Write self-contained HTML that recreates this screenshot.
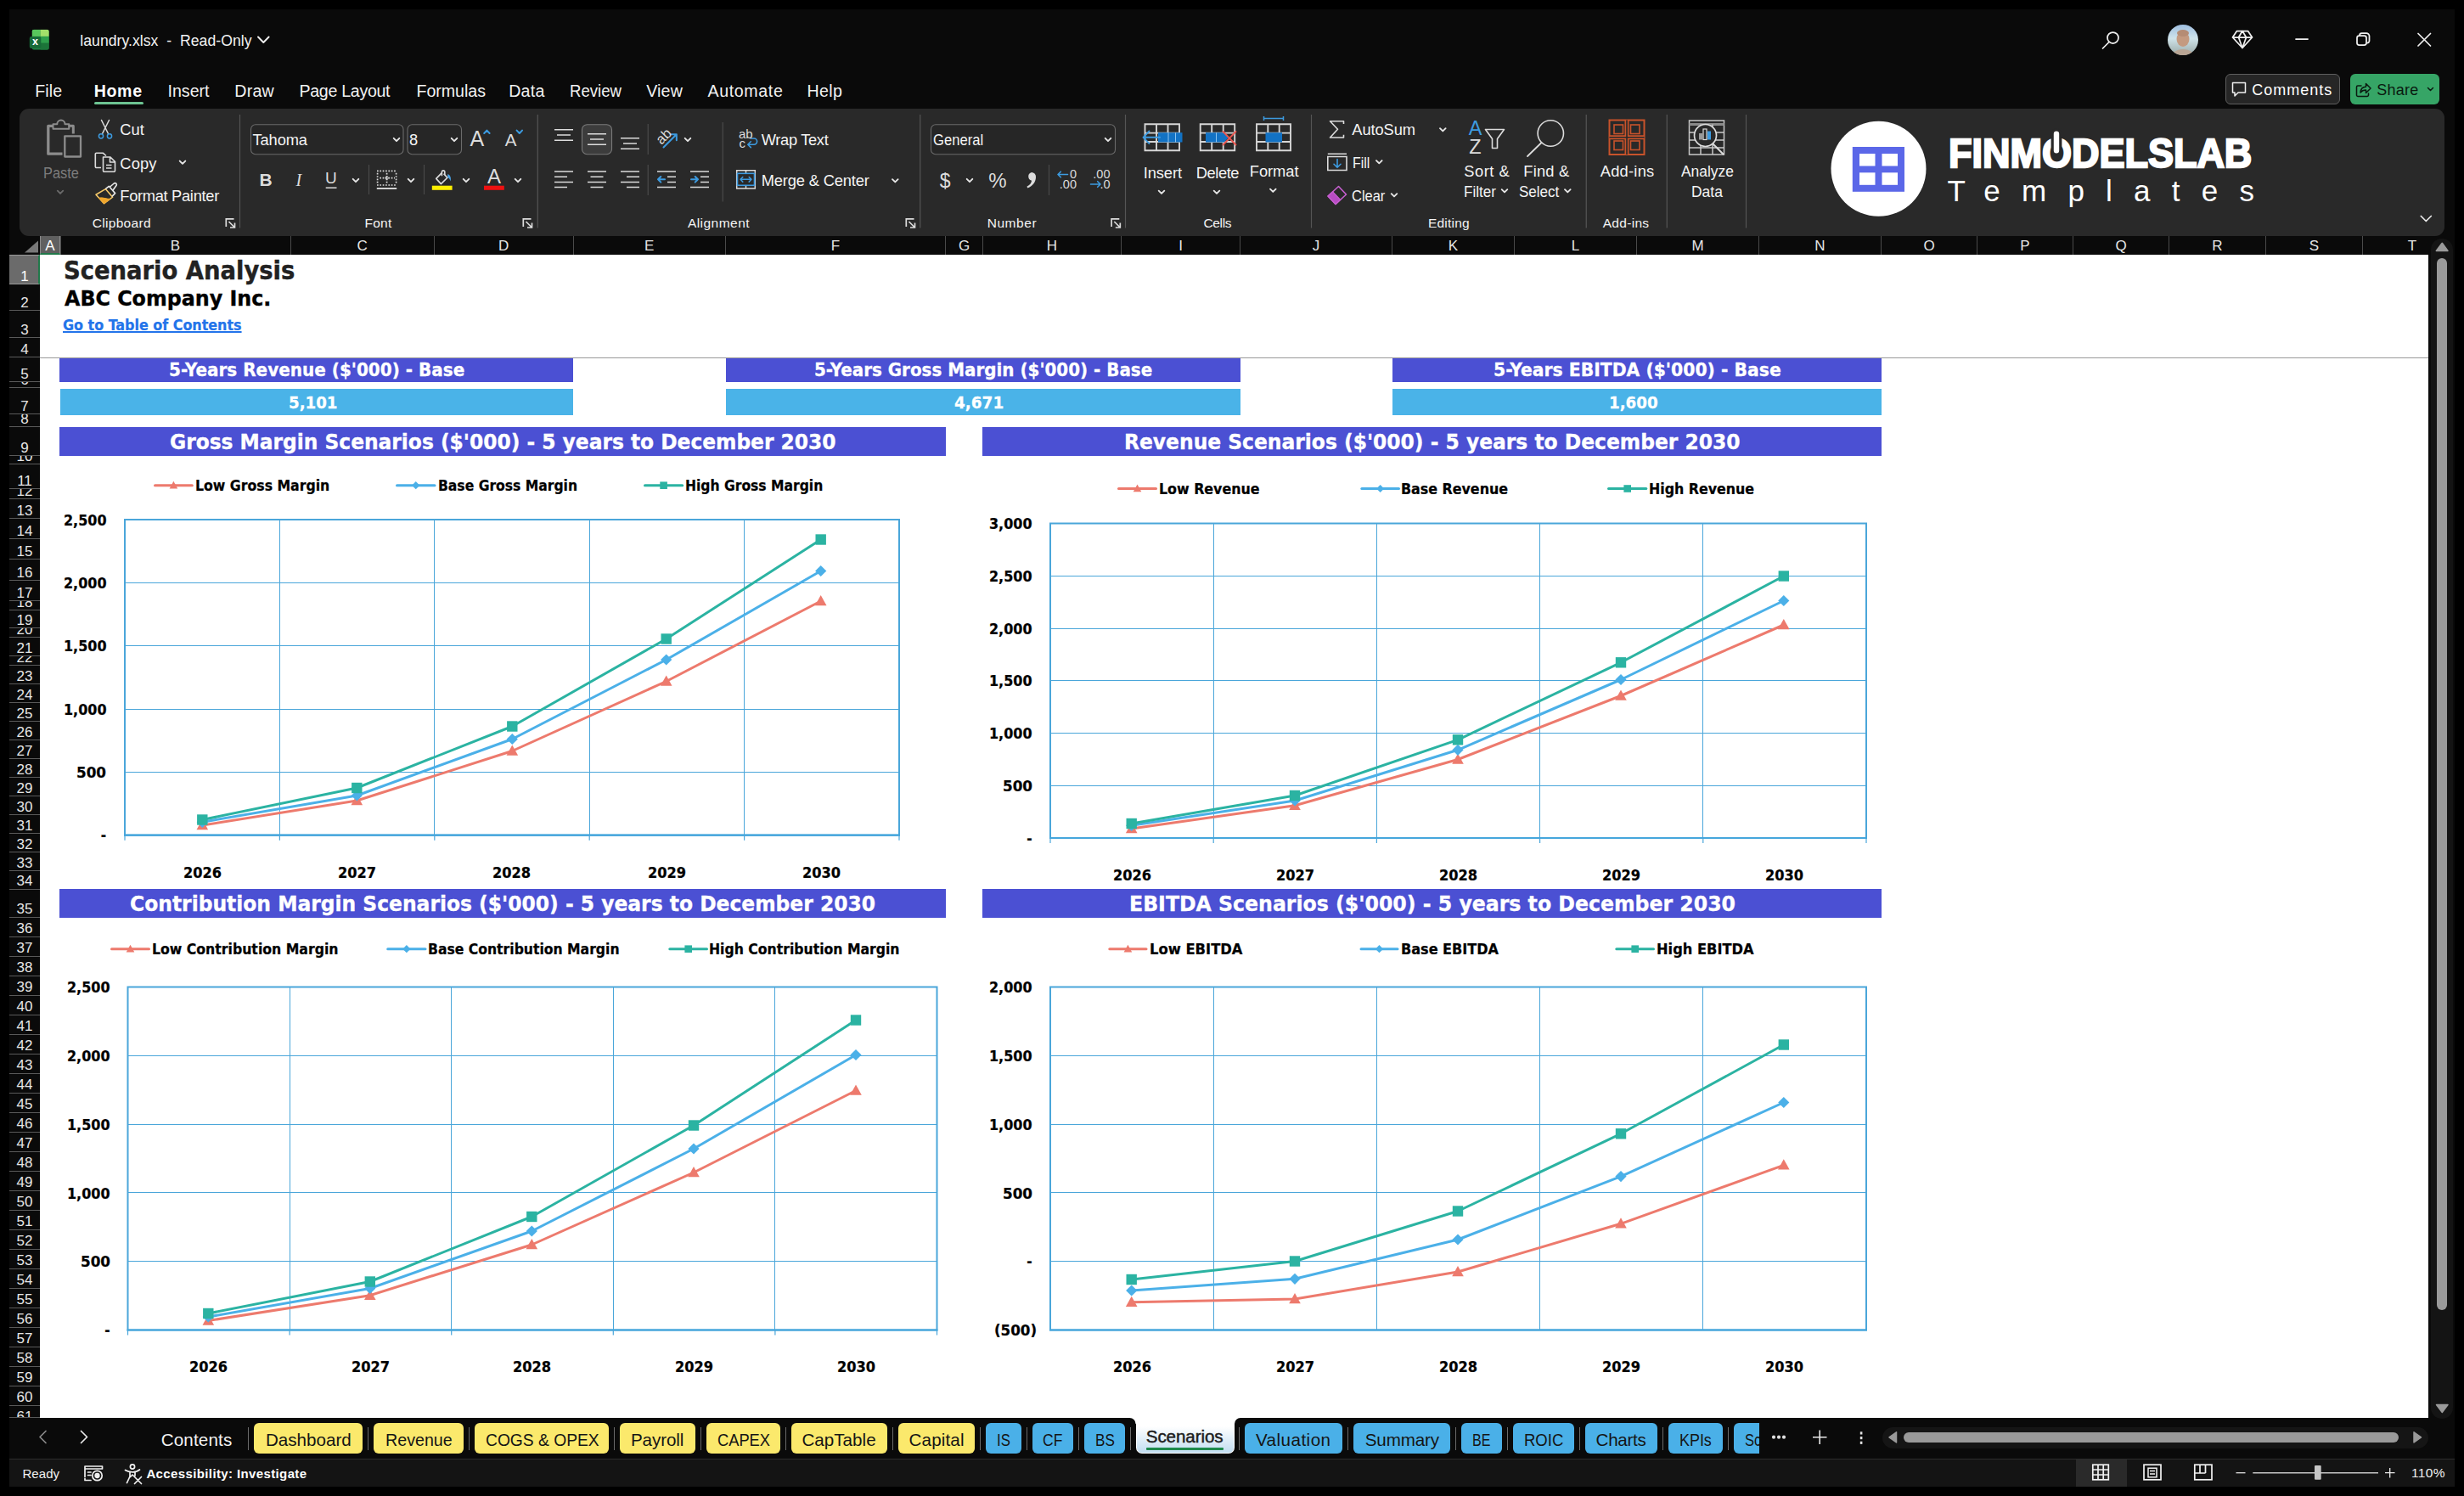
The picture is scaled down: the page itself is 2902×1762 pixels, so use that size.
<!DOCTYPE html><html lang="en"><head><meta charset="utf-8"><title>laundry.xlsx - Excel</title><style>

html,body{margin:0;padding:0;background:#000;}
body{width:2902px;height:1762px;position:relative;overflow:hidden;font-family:"Liberation Sans",sans-serif;}
#app div,#app span.t,#app svg{position:absolute;}
#app span.t{white-space:pre;}
#app span.rt{position:absolute;white-space:pre;}
#app svg{left:0;top:0;overflow:visible;}

</style></head><body><div id="app" style="position:absolute;left:0;top:0;width:2902px;height:1762px;overflow:hidden">
<div style="left:11px;top:11px;width:2880px;height:1740px;background:#0a0a0a;"></div>
<svg width="2902" height="1762" viewBox="0 0 2902 1762">
<defs><clipPath id="xlc"><rect x="37.6" y="34.7" width="20.2" height="24" rx="2.6"/></clipPath></defs>
<g clip-path="url(#xlc)">
<rect x="37.6" y="34.7" width="20.2" height="24" fill="#1f7f42"/>
<rect x="37.6" y="34.7" width="10" height="8.2" fill="#58c65c"/>
<rect x="47.6" y="34.7" width="10.2" height="8.2" fill="#a3e06a"/>
<rect x="47.6" y="42.9" width="10.2" height="7.8" fill="#2fa04c"/>
<rect x="47.6" y="50.7" width="10.2" height="8" fill="#1c7439"/>
</g>
<rect x="34.8" y="42.9" width="13.5" height="14.1" rx="2" fill="#176b38"/>
</svg>
<span class="t" style="font:bold 12.5px/15.0px 'Liberation Sans', sans-serif;color:#fff;top:41.59px;left:-558.5px;width:1200px;text-align:center;">x</span>
<span class="t" style="font:normal 17.6px/21.12px 'Liberation Sans', sans-serif;color:#f2f2f2;top:38.1px;letter-spacing:0.043px;left:94.3px;">laundry.xlsx  -  Read-Only</span>
<svg width="2902" height="1762"><path d="M304 43.5 L310.3 50 L316.6 43.5" fill="none" stroke="#eee" stroke-width="1.9" stroke-linecap="round" stroke-linejoin="round"/></svg>
<svg width="2902" height="1762"><g fill="none" stroke="#f0f0f0" stroke-width="1.75" stroke-linecap="round" stroke-linejoin="round">
<circle cx="2488.5" cy="44.5" r="6.5"/><path d="M2484 49.5 L2476.5 57"/>
<path d="M2629.5 44 L2634.5 36.5 L2647.5 36.5 L2652.5 44 L2641 56.5 Z M2629.5 44 L2652.5 44 M2636.5 44 L2641 36.5 L2645.5 44 L2641 56.5 L2636.5 44"/>
<path d="M2704 46 L2718 46"/>
<rect x="2776" y="42" width="11" height="11" rx="2.5"/><path d="M2779 42 V41.5 a2.5 2.5 0 0 1 2.5 -2.5 H2787 a3.5 3.5 0 0 1 3.5 3.5 V48 a2.5 2.5 0 0 1 -2.5 2.5"/>
<path d="M2848 39.5 L2862.5 54 M2862.5 39.5 L2848 54"/>
</g>
<defs><linearGradient id="sky" x1="0" y1="0" x2="0" y2="1"><stop offset="0" stop-color="#9fbfe0"/><stop offset="0.45" stop-color="#cfe3ea"/><stop offset="1" stop-color="#9aa9a6"/></linearGradient>
<clipPath id="avc"><circle cx="2571" cy="47" r="18"/></clipPath></defs>
<g clip-path="url(#avc)"><rect x="2553" y="29" width="36" height="36" fill="url(#sky)"/>
<ellipse cx="2571" cy="46" rx="7.5" ry="9" fill="#c49a80"/><ellipse cx="2571" cy="68" rx="14" ry="10" fill="#b9a594"/><ellipse cx="2571" cy="39" rx="7" ry="4" fill="#b58c74"/></g>
</svg>
<span class="t" style="font:normal 19.6px/23.52px 'Liberation Sans', sans-serif;color:#f2f2f2;top:95.83px;letter-spacing:0.080px;left:41.22px;">File</span>
<span class="t" style="font:normal 19.6px/23.52px 'Liberation Sans', sans-serif;color:#f2f2f2;top:95.83px;letter-spacing:0.010px;left:197.47px;">Insert</span>
<span class="t" style="font:normal 19.6px/23.52px 'Liberation Sans', sans-serif;color:#f2f2f2;top:95.83px;letter-spacing:0.278px;left:276.22px;">Draw</span>
<span class="t" style="font:normal 19.6px/23.52px 'Liberation Sans', sans-serif;color:#f2f2f2;top:95.83px;letter-spacing:-0.298px;left:352.47px;">Page Layout</span>
<span class="t" style="font:normal 19.6px/23.52px 'Liberation Sans', sans-serif;color:#f2f2f2;top:95.83px;letter-spacing:-0.015px;left:490.47px;">Formulas</span>
<span class="t" style="font:normal 19.6px/23.52px 'Liberation Sans', sans-serif;color:#f2f2f2;top:95.83px;letter-spacing:0.226px;left:599.22px;">Data</span>
<span class="t" style="font:normal 19.6px/23.52px 'Liberation Sans', sans-serif;color:#f2f2f2;top:95.83px;left:670.66px;transform-origin:0 50%;transform:scaleX(0.9483);">Review</span>
<span class="t" style="font:normal 19.6px/23.52px 'Liberation Sans', sans-serif;color:#f2f2f2;top:95.83px;letter-spacing:0.148px;left:761.22px;">View</span>
<span class="t" style="font:normal 19.6px/23.52px 'Liberation Sans', sans-serif;color:#f2f2f2;top:95.83px;letter-spacing:0.635px;left:833.47px;">Automate</span>
<span class="t" style="font:normal 19.6px/23.52px 'Liberation Sans', sans-serif;color:#f2f2f2;top:95.83px;letter-spacing:0.418px;left:950.47px;">Help</span>
<span class="t" style="font:bold 19.6px/23.52px 'Liberation Sans', sans-serif;color:#fff;top:95.83px;letter-spacing:0.622px;left:110.72px;">Home</span>
<div style="left:111px;top:120.3px;width:58px;height:2.9px;background:#6cc391;border-radius:1.5px;"></div>
<div style="left:2621px;top:87px;width:134.5px;height:36px;background:#262626;border:1px solid #5e5e5e;border-radius:6px;box-sizing:border-box;"></div>
<div style="left:2768px;top:87px;width:105px;height:36px;background:#36a566;border-radius:6px;"></div>
<span class="t" style="font:normal 18px/21.6px 'Liberation Sans', sans-serif;color:#fff;top:95.77px;letter-spacing:0.987px;left:2652.28px;">Comments</span>
<span class="t" style="font:normal 18px/21.6px 'Liberation Sans', sans-serif;color:#0a1a10;top:95.77px;letter-spacing:0.223px;left:2799.28px;">Share</span>
<svg width="2902" height="1762"><g fill="none" stroke-width="1.5" stroke-linejoin="round" stroke-linecap="round">
<path d="M2629.5 97.5 H2644.5 V109 H2636 L2632 113 V109 H2629.5 Z" stroke="#f0f0f0"/>
<path d="M2781 101 H2777 a1.5 1.5 0 0 0 -1.5 1.5 V112 a1.5 1.5 0 0 0 1.5 1.5 H2788 a1.5 1.5 0 0 0 1.5 -1.5 V110" stroke="#0a1a10"/>
<path d="M2780 109 C2780.5 104 2783.5 102.3 2786.5 102.3 V98.5 L2792 104 L2786.5 109.5 V106 C2784 106 2782 106.5 2780 109 Z" stroke="#0a1a10"/>
<path d="M2859.5 103.5 L2862.5 106.5 L2865.5 103.5" stroke="#0a1a10"/>
</g></svg>
<div style="left:23px;top:128px;width:2856px;height:149.5px;background:#292929;border-radius:11px;"></div>
<div style="left:11px;top:278px;width:2849px;height:22px;background:#0a0a0a;"></div>
<div style="left:47px;top:278px;width:24px;height:22px;background:#606060;border-bottom:2.2px solid #21794a;border-left:1px solid #8a8a8a;border-right:1px solid #8a8a8a;box-sizing:border-box;"></div>
<div style="left:70.5px;top:278px;width:1px;height:22px;background:#4a4a4a;"></div>
<span class="t" style="font:normal 17px/20.4px 'Liberation Sans', sans-serif;color:#fff;top:279.75px;left:-541.0px;width:1200px;text-align:center;">A</span>
<div style="left:341.5px;top:278px;width:1px;height:22px;background:#4a4a4a;"></div>
<span class="t" style="font:normal 17px/20.4px 'Liberation Sans', sans-serif;color:#e6e6e6;top:279.75px;left:-393.5px;width:1200px;text-align:center;">B</span>
<div style="left:511.0px;top:278px;width:1px;height:22px;background:#4a4a4a;"></div>
<span class="t" style="font:normal 17px/20.4px 'Liberation Sans', sans-serif;color:#e6e6e6;top:279.75px;left:-173.25px;width:1200px;text-align:center;">C</span>
<div style="left:674.5px;top:278px;width:1px;height:22px;background:#4a4a4a;"></div>
<span class="t" style="font:normal 17px/20.4px 'Liberation Sans', sans-serif;color:#e6e6e6;top:279.75px;left:-6.75px;width:1200px;text-align:center;">D</span>
<div style="left:854.0px;top:278px;width:1px;height:22px;background:#4a4a4a;"></div>
<span class="t" style="font:normal 17px/20.4px 'Liberation Sans', sans-serif;color:#e6e6e6;top:279.75px;left:164.75px;width:1200px;text-align:center;">E</span>
<div style="left:1113.0px;top:278px;width:1px;height:22px;background:#4a4a4a;"></div>
<span class="t" style="font:normal 17px/20.4px 'Liberation Sans', sans-serif;color:#e6e6e6;top:279.75px;left:384.0px;width:1200px;text-align:center;">F</span>
<div style="left:1157.0px;top:278px;width:1px;height:22px;background:#4a4a4a;"></div>
<span class="t" style="font:normal 17px/20.4px 'Liberation Sans', sans-serif;color:#e6e6e6;top:279.75px;left:535.5px;width:1200px;text-align:center;">G</span>
<div style="left:1320.0px;top:278px;width:1px;height:22px;background:#4a4a4a;"></div>
<span class="t" style="font:normal 17px/20.4px 'Liberation Sans', sans-serif;color:#e6e6e6;top:279.75px;left:639.0px;width:1200px;text-align:center;">H</span>
<div style="left:1460.0px;top:278px;width:1px;height:22px;background:#4a4a4a;"></div>
<span class="t" style="font:normal 17px/20.4px 'Liberation Sans', sans-serif;color:#e6e6e6;top:279.75px;left:790.5px;width:1200px;text-align:center;">I</span>
<div style="left:1639.0px;top:278px;width:1px;height:22px;background:#4a4a4a;"></div>
<span class="t" style="font:normal 17px/20.4px 'Liberation Sans', sans-serif;color:#e6e6e6;top:279.75px;left:950.0px;width:1200px;text-align:center;">J</span>
<div style="left:1783.0px;top:278px;width:1px;height:22px;background:#4a4a4a;"></div>
<span class="t" style="font:normal 17px/20.4px 'Liberation Sans', sans-serif;color:#e6e6e6;top:279.75px;left:1111.5px;width:1200px;text-align:center;">K</span>
<div style="left:1927.0px;top:278px;width:1px;height:22px;background:#4a4a4a;"></div>
<span class="t" style="font:normal 17px/20.4px 'Liberation Sans', sans-serif;color:#e6e6e6;top:279.75px;left:1255.5px;width:1200px;text-align:center;">L</span>
<div style="left:2071.0px;top:278px;width:1px;height:22px;background:#4a4a4a;"></div>
<span class="t" style="font:normal 17px/20.4px 'Liberation Sans', sans-serif;color:#e6e6e6;top:279.75px;left:1399.5px;width:1200px;text-align:center;">M</span>
<div style="left:2215.0px;top:278px;width:1px;height:22px;background:#4a4a4a;"></div>
<span class="t" style="font:normal 17px/20.4px 'Liberation Sans', sans-serif;color:#e6e6e6;top:279.75px;left:1543.5px;width:1200px;text-align:center;">N</span>
<div style="left:2328.0px;top:278px;width:1px;height:22px;background:#4a4a4a;"></div>
<span class="t" style="font:normal 17px/20.4px 'Liberation Sans', sans-serif;color:#e6e6e6;top:279.75px;left:1672.0px;width:1200px;text-align:center;">O</span>
<div style="left:2441.0px;top:278px;width:1px;height:22px;background:#4a4a4a;"></div>
<span class="t" style="font:normal 17px/20.4px 'Liberation Sans', sans-serif;color:#e6e6e6;top:279.75px;left:1785.0px;width:1200px;text-align:center;">P</span>
<div style="left:2554.0px;top:278px;width:1px;height:22px;background:#4a4a4a;"></div>
<span class="t" style="font:normal 17px/20.4px 'Liberation Sans', sans-serif;color:#e6e6e6;top:279.75px;left:1898.0px;width:1200px;text-align:center;">Q</span>
<div style="left:2668.0px;top:278px;width:1px;height:22px;background:#4a4a4a;"></div>
<span class="t" style="font:normal 17px/20.4px 'Liberation Sans', sans-serif;color:#e6e6e6;top:279.75px;left:2011.5px;width:1200px;text-align:center;">R</span>
<div style="left:2782.0px;top:278px;width:1px;height:22px;background:#4a4a4a;"></div>
<span class="t" style="font:normal 17px/20.4px 'Liberation Sans', sans-serif;color:#e6e6e6;top:279.75px;left:2125.5px;width:1200px;text-align:center;">S</span>
<span class="t" style="font:normal 17px/20.4px 'Liberation Sans', sans-serif;color:#e6e6e6;top:279.75px;left:2241.0px;width:1200px;text-align:center;">T</span>
<svg width="2902" height="1762"><path d="M45 283.5 V297.5 H29 Z" fill="#787878"/></svg>
<div style="left:11px;top:300px;width:36px;height:1370px;background:#0a0a0a;"></div>
<div style="left:11px;top:300px;width:36px;height:1370px;overflow:hidden;"><div style="left:0;top:0px;width:36px;height:35px;background:#6b6b6b;overflow:hidden;box-sizing:border-box;border-bottom:1px solid #5a5a5a;border-right:2.2px solid #21794a;border-top:1px solid #9a9a9a;border-bottom:1px solid #9a9a9a;"><span class="rt" style="left:0;width:36px;text-align:center;bottom:-1.9px;font:17px/20px 'Liberation Sans', sans-serif;color:#fff">1</span></div><div style="left:0;top:35px;width:36px;height:31px;background:#0a0a0a;overflow:hidden;box-sizing:border-box;border-bottom:1px solid #5a5a5a;"><span class="rt" style="left:0;width:36px;text-align:center;bottom:-1.9px;font:17px/20px 'Liberation Sans', sans-serif;color:#e6e6e6">2</span></div><div style="left:0;top:66px;width:36px;height:32px;background:#0a0a0a;overflow:hidden;box-sizing:border-box;border-bottom:1px solid #5a5a5a;"><span class="rt" style="left:0;width:36px;text-align:center;bottom:-1.9px;font:17px/20px 'Liberation Sans', sans-serif;color:#e6e6e6">3</span></div><div style="left:0;top:98px;width:36px;height:23px;background:#0a0a0a;overflow:hidden;box-sizing:border-box;border-bottom:1px solid #5a5a5a;"><span class="rt" style="left:0;width:36px;text-align:center;bottom:-1.9px;font:17px/20px 'Liberation Sans', sans-serif;color:#e6e6e6">4</span></div><div style="left:0;top:121px;width:36px;height:29px;background:#0a0a0a;overflow:hidden;box-sizing:border-box;border-bottom:1px solid #5a5a5a;"><span class="rt" style="left:0;width:36px;text-align:center;bottom:-1.9px;font:17px/20px 'Liberation Sans', sans-serif;color:#e6e6e6">5</span></div><div style="left:0;top:150px;width:36px;height:7px;background:#0a0a0a;overflow:hidden;box-sizing:border-box;border-bottom:1px solid #5a5a5a;"><span class="rt" style="left:0;width:36px;text-align:center;bottom:-1.9px;font:17px/20px 'Liberation Sans', sans-serif;color:#e6e6e6">6</span></div><div style="left:0;top:157px;width:36px;height:31px;background:#0a0a0a;overflow:hidden;box-sizing:border-box;border-bottom:1px solid #5a5a5a;"><span class="rt" style="left:0;width:36px;text-align:center;bottom:-1.9px;font:17px/20px 'Liberation Sans', sans-serif;color:#e6e6e6">7</span></div><div style="left:0;top:188px;width:36px;height:15px;background:#0a0a0a;overflow:hidden;box-sizing:border-box;border-bottom:1px solid #5a5a5a;"><span class="rt" style="left:0;width:36px;text-align:center;bottom:-1.9px;font:17px/20px 'Liberation Sans', sans-serif;color:#e6e6e6">8</span></div><div style="left:0;top:203px;width:36px;height:34px;background:#0a0a0a;overflow:hidden;box-sizing:border-box;border-bottom:1px solid #5a5a5a;"><span class="rt" style="left:0;width:36px;text-align:center;bottom:-1.9px;font:17px/20px 'Liberation Sans', sans-serif;color:#e6e6e6">9</span></div><div style="left:0;top:237px;width:36px;height:10px;background:#0a0a0a;overflow:hidden;box-sizing:border-box;border-bottom:1px solid #5a5a5a;"><span class="rt" style="left:0;width:36px;text-align:center;bottom:-1.9px;font:17px/20px 'Liberation Sans', sans-serif;color:#e6e6e6">10</span></div><div style="left:0;top:247px;width:36px;height:29px;background:#0a0a0a;overflow:hidden;box-sizing:border-box;border-bottom:1px solid #5a5a5a;"><span class="rt" style="left:0;width:36px;text-align:center;bottom:-1.9px;font:17px/20px 'Liberation Sans', sans-serif;color:#e6e6e6">11</span></div><div style="left:0;top:276px;width:36px;height:12px;background:#0a0a0a;overflow:hidden;box-sizing:border-box;border-bottom:1px solid #5a5a5a;"><span class="rt" style="left:0;width:36px;text-align:center;bottom:-1.9px;font:17px/20px 'Liberation Sans', sans-serif;color:#e6e6e6">12</span></div><div style="left:0;top:288px;width:36px;height:23px;background:#0a0a0a;overflow:hidden;box-sizing:border-box;border-bottom:1px solid #5a5a5a;"><span class="rt" style="left:0;width:36px;text-align:center;bottom:-1.9px;font:17px/20px 'Liberation Sans', sans-serif;color:#e6e6e6">13</span></div><div style="left:0;top:311px;width:36px;height:24px;background:#0a0a0a;overflow:hidden;box-sizing:border-box;border-bottom:1px solid #5a5a5a;"><span class="rt" style="left:0;width:36px;text-align:center;bottom:-1.9px;font:17px/20px 'Liberation Sans', sans-serif;color:#e6e6e6">14</span></div><div style="left:0;top:335px;width:36px;height:24px;background:#0a0a0a;overflow:hidden;box-sizing:border-box;border-bottom:1px solid #5a5a5a;"><span class="rt" style="left:0;width:36px;text-align:center;bottom:-1.9px;font:17px/20px 'Liberation Sans', sans-serif;color:#e6e6e6">15</span></div><div style="left:0;top:359px;width:36px;height:25px;background:#0a0a0a;overflow:hidden;box-sizing:border-box;border-bottom:1px solid #5a5a5a;"><span class="rt" style="left:0;width:36px;text-align:center;bottom:-1.9px;font:17px/20px 'Liberation Sans', sans-serif;color:#e6e6e6">16</span></div><div style="left:0;top:384px;width:36px;height:24px;background:#0a0a0a;overflow:hidden;box-sizing:border-box;border-bottom:1px solid #5a5a5a;"><span class="rt" style="left:0;width:36px;text-align:center;bottom:-1.9px;font:17px/20px 'Liberation Sans', sans-serif;color:#e6e6e6">17</span></div><div style="left:0;top:408px;width:36px;height:11px;background:#0a0a0a;overflow:hidden;box-sizing:border-box;border-bottom:1px solid #5a5a5a;"><span class="rt" style="left:0;width:36px;text-align:center;bottom:-1.9px;font:17px/20px 'Liberation Sans', sans-serif;color:#e6e6e6">18</span></div><div style="left:0;top:419px;width:36px;height:21px;background:#0a0a0a;overflow:hidden;box-sizing:border-box;border-bottom:1px solid #5a5a5a;"><span class="rt" style="left:0;width:36px;text-align:center;bottom:-1.9px;font:17px/20px 'Liberation Sans', sans-serif;color:#e6e6e6">19</span></div><div style="left:0;top:440px;width:36px;height:11px;background:#0a0a0a;overflow:hidden;box-sizing:border-box;border-bottom:1px solid #5a5a5a;"><span class="rt" style="left:0;width:36px;text-align:center;bottom:-1.9px;font:17px/20px 'Liberation Sans', sans-serif;color:#e6e6e6">20</span></div><div style="left:0;top:451px;width:36px;height:22px;background:#0a0a0a;overflow:hidden;box-sizing:border-box;border-bottom:1px solid #5a5a5a;"><span class="rt" style="left:0;width:36px;text-align:center;bottom:-1.9px;font:17px/20px 'Liberation Sans', sans-serif;color:#e6e6e6">21</span></div><div style="left:0;top:473px;width:36px;height:11px;background:#0a0a0a;overflow:hidden;box-sizing:border-box;border-bottom:1px solid #5a5a5a;"><span class="rt" style="left:0;width:36px;text-align:center;bottom:-1.9px;font:17px/20px 'Liberation Sans', sans-serif;color:#e6e6e6">22</span></div><div style="left:0;top:484px;width:36px;height:22px;background:#0a0a0a;overflow:hidden;box-sizing:border-box;border-bottom:1px solid #5a5a5a;"><span class="rt" style="left:0;width:36px;text-align:center;bottom:-1.9px;font:17px/20px 'Liberation Sans', sans-serif;color:#e6e6e6">23</span></div><div style="left:0;top:506px;width:36px;height:22px;background:#0a0a0a;overflow:hidden;box-sizing:border-box;border-bottom:1px solid #5a5a5a;"><span class="rt" style="left:0;width:36px;text-align:center;bottom:-1.9px;font:17px/20px 'Liberation Sans', sans-serif;color:#e6e6e6">24</span></div><div style="left:0;top:528px;width:36px;height:22px;background:#0a0a0a;overflow:hidden;box-sizing:border-box;border-bottom:1px solid #5a5a5a;"><span class="rt" style="left:0;width:36px;text-align:center;bottom:-1.9px;font:17px/20px 'Liberation Sans', sans-serif;color:#e6e6e6">25</span></div><div style="left:0;top:550px;width:36px;height:22px;background:#0a0a0a;overflow:hidden;box-sizing:border-box;border-bottom:1px solid #5a5a5a;"><span class="rt" style="left:0;width:36px;text-align:center;bottom:-1.9px;font:17px/20px 'Liberation Sans', sans-serif;color:#e6e6e6">26</span></div><div style="left:0;top:572px;width:36px;height:22px;background:#0a0a0a;overflow:hidden;box-sizing:border-box;border-bottom:1px solid #5a5a5a;"><span class="rt" style="left:0;width:36px;text-align:center;bottom:-1.9px;font:17px/20px 'Liberation Sans', sans-serif;color:#e6e6e6">27</span></div><div style="left:0;top:594px;width:36px;height:22px;background:#0a0a0a;overflow:hidden;box-sizing:border-box;border-bottom:1px solid #5a5a5a;"><span class="rt" style="left:0;width:36px;text-align:center;bottom:-1.9px;font:17px/20px 'Liberation Sans', sans-serif;color:#e6e6e6">28</span></div><div style="left:0;top:616px;width:36px;height:22px;background:#0a0a0a;overflow:hidden;box-sizing:border-box;border-bottom:1px solid #5a5a5a;"><span class="rt" style="left:0;width:36px;text-align:center;bottom:-1.9px;font:17px/20px 'Liberation Sans', sans-serif;color:#e6e6e6">29</span></div><div style="left:0;top:638px;width:36px;height:22px;background:#0a0a0a;overflow:hidden;box-sizing:border-box;border-bottom:1px solid #5a5a5a;"><span class="rt" style="left:0;width:36px;text-align:center;bottom:-1.9px;font:17px/20px 'Liberation Sans', sans-serif;color:#e6e6e6">30</span></div><div style="left:0;top:660px;width:36px;height:22px;background:#0a0a0a;overflow:hidden;box-sizing:border-box;border-bottom:1px solid #5a5a5a;"><span class="rt" style="left:0;width:36px;text-align:center;bottom:-1.9px;font:17px/20px 'Liberation Sans', sans-serif;color:#e6e6e6">31</span></div><div style="left:0;top:682px;width:36px;height:22px;background:#0a0a0a;overflow:hidden;box-sizing:border-box;border-bottom:1px solid #5a5a5a;"><span class="rt" style="left:0;width:36px;text-align:center;bottom:-1.9px;font:17px/20px 'Liberation Sans', sans-serif;color:#e6e6e6">32</span></div><div style="left:0;top:704px;width:36px;height:22px;background:#0a0a0a;overflow:hidden;box-sizing:border-box;border-bottom:1px solid #5a5a5a;"><span class="rt" style="left:0;width:36px;text-align:center;bottom:-1.9px;font:17px/20px 'Liberation Sans', sans-serif;color:#e6e6e6">33</span></div><div style="left:0;top:726px;width:36px;height:21.5px;background:#0a0a0a;overflow:hidden;box-sizing:border-box;border-bottom:1px solid #5a5a5a;"><span class="rt" style="left:0;width:36px;text-align:center;bottom:-1.9px;font:17px/20px 'Liberation Sans', sans-serif;color:#e6e6e6">34</span></div><div style="left:0;top:747.5px;width:36px;height:33.0px;background:#0a0a0a;overflow:hidden;box-sizing:border-box;border-bottom:1px solid #5a5a5a;"><span class="rt" style="left:0;width:36px;text-align:center;bottom:-1.9px;font:17px/20px 'Liberation Sans', sans-serif;color:#e6e6e6">35</span></div><div style="left:0;top:780.5px;width:36px;height:23.0px;background:#0a0a0a;overflow:hidden;box-sizing:border-box;border-bottom:1px solid #5a5a5a;"><span class="rt" style="left:0;width:36px;text-align:center;bottom:-1.9px;font:17px/20px 'Liberation Sans', sans-serif;color:#e6e6e6">36</span></div><div style="left:0;top:803.5px;width:36px;height:23.0px;background:#0a0a0a;overflow:hidden;box-sizing:border-box;border-bottom:1px solid #5a5a5a;"><span class="rt" style="left:0;width:36px;text-align:center;bottom:-1.9px;font:17px/20px 'Liberation Sans', sans-serif;color:#e6e6e6">37</span></div><div style="left:0;top:826.5px;width:36px;height:23.0px;background:#0a0a0a;overflow:hidden;box-sizing:border-box;border-bottom:1px solid #5a5a5a;"><span class="rt" style="left:0;width:36px;text-align:center;bottom:-1.9px;font:17px/20px 'Liberation Sans', sans-serif;color:#e6e6e6">38</span></div><div style="left:0;top:849.5px;width:36px;height:23.0px;background:#0a0a0a;overflow:hidden;box-sizing:border-box;border-bottom:1px solid #5a5a5a;"><span class="rt" style="left:0;width:36px;text-align:center;bottom:-1.9px;font:17px/20px 'Liberation Sans', sans-serif;color:#e6e6e6">39</span></div><div style="left:0;top:872.5px;width:36px;height:23.0px;background:#0a0a0a;overflow:hidden;box-sizing:border-box;border-bottom:1px solid #5a5a5a;"><span class="rt" style="left:0;width:36px;text-align:center;bottom:-1.9px;font:17px/20px 'Liberation Sans', sans-serif;color:#e6e6e6">40</span></div><div style="left:0;top:895.5px;width:36px;height:23.0px;background:#0a0a0a;overflow:hidden;box-sizing:border-box;border-bottom:1px solid #5a5a5a;"><span class="rt" style="left:0;width:36px;text-align:center;bottom:-1.9px;font:17px/20px 'Liberation Sans', sans-serif;color:#e6e6e6">41</span></div><div style="left:0;top:918.5px;width:36px;height:23.0px;background:#0a0a0a;overflow:hidden;box-sizing:border-box;border-bottom:1px solid #5a5a5a;"><span class="rt" style="left:0;width:36px;text-align:center;bottom:-1.9px;font:17px/20px 'Liberation Sans', sans-serif;color:#e6e6e6">42</span></div><div style="left:0;top:941.5px;width:36px;height:23.0px;background:#0a0a0a;overflow:hidden;box-sizing:border-box;border-bottom:1px solid #5a5a5a;"><span class="rt" style="left:0;width:36px;text-align:center;bottom:-1.9px;font:17px/20px 'Liberation Sans', sans-serif;color:#e6e6e6">43</span></div><div style="left:0;top:964.5px;width:36px;height:23.0px;background:#0a0a0a;overflow:hidden;box-sizing:border-box;border-bottom:1px solid #5a5a5a;"><span class="rt" style="left:0;width:36px;text-align:center;bottom:-1.9px;font:17px/20px 'Liberation Sans', sans-serif;color:#e6e6e6">44</span></div><div style="left:0;top:987.5px;width:36px;height:23.0px;background:#0a0a0a;overflow:hidden;box-sizing:border-box;border-bottom:1px solid #5a5a5a;"><span class="rt" style="left:0;width:36px;text-align:center;bottom:-1.9px;font:17px/20px 'Liberation Sans', sans-serif;color:#e6e6e6">45</span></div><div style="left:0;top:1010.5px;width:36px;height:23.0px;background:#0a0a0a;overflow:hidden;box-sizing:border-box;border-bottom:1px solid #5a5a5a;"><span class="rt" style="left:0;width:36px;text-align:center;bottom:-1.9px;font:17px/20px 'Liberation Sans', sans-serif;color:#e6e6e6">46</span></div><div style="left:0;top:1033.5px;width:36px;height:23.0px;background:#0a0a0a;overflow:hidden;box-sizing:border-box;border-bottom:1px solid #5a5a5a;"><span class="rt" style="left:0;width:36px;text-align:center;bottom:-1.9px;font:17px/20px 'Liberation Sans', sans-serif;color:#e6e6e6">47</span></div><div style="left:0;top:1056.5px;width:36px;height:23.0px;background:#0a0a0a;overflow:hidden;box-sizing:border-box;border-bottom:1px solid #5a5a5a;"><span class="rt" style="left:0;width:36px;text-align:center;bottom:-1.9px;font:17px/20px 'Liberation Sans', sans-serif;color:#e6e6e6">48</span></div><div style="left:0;top:1079.5px;width:36px;height:23.0px;background:#0a0a0a;overflow:hidden;box-sizing:border-box;border-bottom:1px solid #5a5a5a;"><span class="rt" style="left:0;width:36px;text-align:center;bottom:-1.9px;font:17px/20px 'Liberation Sans', sans-serif;color:#e6e6e6">49</span></div><div style="left:0;top:1102.5px;width:36px;height:23.0px;background:#0a0a0a;overflow:hidden;box-sizing:border-box;border-bottom:1px solid #5a5a5a;"><span class="rt" style="left:0;width:36px;text-align:center;bottom:-1.9px;font:17px/20px 'Liberation Sans', sans-serif;color:#e6e6e6">50</span></div><div style="left:0;top:1125.5px;width:36px;height:23.0px;background:#0a0a0a;overflow:hidden;box-sizing:border-box;border-bottom:1px solid #5a5a5a;"><span class="rt" style="left:0;width:36px;text-align:center;bottom:-1.9px;font:17px/20px 'Liberation Sans', sans-serif;color:#e6e6e6">51</span></div><div style="left:0;top:1148.5px;width:36px;height:23.0px;background:#0a0a0a;overflow:hidden;box-sizing:border-box;border-bottom:1px solid #5a5a5a;"><span class="rt" style="left:0;width:36px;text-align:center;bottom:-1.9px;font:17px/20px 'Liberation Sans', sans-serif;color:#e6e6e6">52</span></div><div style="left:0;top:1171.5px;width:36px;height:23.0px;background:#0a0a0a;overflow:hidden;box-sizing:border-box;border-bottom:1px solid #5a5a5a;"><span class="rt" style="left:0;width:36px;text-align:center;bottom:-1.9px;font:17px/20px 'Liberation Sans', sans-serif;color:#e6e6e6">53</span></div><div style="left:0;top:1194.5px;width:36px;height:23.0px;background:#0a0a0a;overflow:hidden;box-sizing:border-box;border-bottom:1px solid #5a5a5a;"><span class="rt" style="left:0;width:36px;text-align:center;bottom:-1.9px;font:17px/20px 'Liberation Sans', sans-serif;color:#e6e6e6">54</span></div><div style="left:0;top:1217.5px;width:36px;height:23.0px;background:#0a0a0a;overflow:hidden;box-sizing:border-box;border-bottom:1px solid #5a5a5a;"><span class="rt" style="left:0;width:36px;text-align:center;bottom:-1.9px;font:17px/20px 'Liberation Sans', sans-serif;color:#e6e6e6">55</span></div><div style="left:0;top:1240.5px;width:36px;height:23.0px;background:#0a0a0a;overflow:hidden;box-sizing:border-box;border-bottom:1px solid #5a5a5a;"><span class="rt" style="left:0;width:36px;text-align:center;bottom:-1.9px;font:17px/20px 'Liberation Sans', sans-serif;color:#e6e6e6">56</span></div><div style="left:0;top:1263.5px;width:36px;height:23.0px;background:#0a0a0a;overflow:hidden;box-sizing:border-box;border-bottom:1px solid #5a5a5a;"><span class="rt" style="left:0;width:36px;text-align:center;bottom:-1.9px;font:17px/20px 'Liberation Sans', sans-serif;color:#e6e6e6">57</span></div><div style="left:0;top:1286.5px;width:36px;height:23.0px;background:#0a0a0a;overflow:hidden;box-sizing:border-box;border-bottom:1px solid #5a5a5a;"><span class="rt" style="left:0;width:36px;text-align:center;bottom:-1.9px;font:17px/20px 'Liberation Sans', sans-serif;color:#e6e6e6">58</span></div><div style="left:0;top:1309.5px;width:36px;height:23.0px;background:#0a0a0a;overflow:hidden;box-sizing:border-box;border-bottom:1px solid #5a5a5a;"><span class="rt" style="left:0;width:36px;text-align:center;bottom:-1.9px;font:17px/20px 'Liberation Sans', sans-serif;color:#e6e6e6">59</span></div><div style="left:0;top:1332.5px;width:36px;height:23.0px;background:#0a0a0a;overflow:hidden;box-sizing:border-box;border-bottom:1px solid #5a5a5a;"><span class="rt" style="left:0;width:36px;text-align:center;bottom:-1.9px;font:17px/20px 'Liberation Sans', sans-serif;color:#e6e6e6">60</span></div><div style="left:0;top:1355.5px;width:36px;height:14.5px;background:#0a0a0a;overflow:hidden;box-sizing:border-box;border-bottom:1px solid #5a5a5a;"><span class="rt" style="left:0;width:36px;text-align:center;bottom:-10.4px;font:17px/20px 'Liberation Sans', sans-serif;color:#e6e6e6">61</span></div></div>
<div style="left:47px;top:300px;width:2813px;height:1370px;background:#fff;"></div>
<div style="left:2863px;top:281px;width:26px;height:1390px;background:#141414;border-radius:13px;"></div>
<div style="left:2870px;top:304px;width:12px;height:1239px;background:#9a9a9a;border-radius:6px;"></div>
<svg width="2902" height="1762"><path d="M2869.3 295.5 L2876 286.5 Q2876.2 286.2 2876.5 286.5 L2883 295.5 Z" fill="#9a9a9a" stroke="#9a9a9a" stroke-width="1.5" stroke-linejoin="round"/><path d="M2869.5 1654.5 H2883 L2876.3 1663.5 Z" fill="#9a9a9a" stroke="#9a9a9a" stroke-width="1.5" stroke-linejoin="round"/></svg>
<svg width="2902" height="1762" viewBox="0 0 2902 1762"><path d="M282.5 135 V268.5" stroke="#555" stroke-width="1.2"/><path d="M633.25 135 V268.5" stroke="#555" stroke-width="1.2"/><path d="M1083.75 135 V268.5" stroke="#555" stroke-width="1.2"/><path d="M1325.5 135 V268.5" stroke="#555" stroke-width="1.2"/><path d="M1544.5 135 V268.5" stroke="#555" stroke-width="1.2"/><path d="M1868.25 135 V268.5" stroke="#555" stroke-width="1.2"/><path d="M1963.25 135 V268.5" stroke="#555" stroke-width="1.2"/><path d="M2056.5 135 V268.5" stroke="#555" stroke-width="1.2"/><path d="M434.5 194 V229" stroke="#4a4a4a" stroke-width="1.2"/><path d="M499.5 194 V229" stroke="#4a4a4a" stroke-width="1.2"/><path d="M763.25 146 V182" stroke="#4a4a4a" stroke-width="1.2"/><path d="M763.25 194 V230" stroke="#4a4a4a" stroke-width="1.2"/><path d="M851.25 144 V237.5" stroke="#4a4a4a" stroke-width="1.2"/><path d="M1235.5 194 V230" stroke="#4a4a4a" stroke-width="1.2"/><g fill="none" stroke="#8c8c8c" stroke-linejoin="round">
<path d="M63 148.3 H56.8 V181.2 H73.5" stroke-width="3.3"/>
<path d="M80.5 148.3 H86.3 V157.5" stroke-width="3"/>
<path d="M62.5 151.8 V146.2 H67.3 a4.6 4.6 0 0 1 9.2 0 H81.3 V151.8 Z" stroke-width="2"/>
<rect x="76.3" y="160.3" width="18.7" height="24.2" stroke-width="2.3"/></g><path d="M67.8 224.70000000000002 L71 227.9 L74.2 224.70000000000002" fill="none" stroke="#6a6a6a" stroke-width="1.9" stroke-linecap="round" stroke-linejoin="round"/><g fill="none" stroke-width="1.5" stroke-linecap="round"><path d="M119.5 141.5 L127.5 157.5 M128.5 141.5 L120.5 157.5" stroke="#dcdcdc"/>
<circle cx="119" cy="160.3" r="2.6" stroke="#3d9be0"/><circle cx="129" cy="160.3" r="2.6" stroke="#3d9be0"/></g><g fill="none" stroke="#dcdcdc" stroke-width="1.6" stroke-linejoin="round">
<path d="M119 197.5 H113.5 a1.2 1.2 0 0 1 -1.2 -1.2 V181.5 a1.2 1.2 0 0 1 1.2 -1.2 H121.5 L125 183.5"/>
<path d="M121.5 185 H130 L135.5 190.5 V201 a1.2 1.2 0 0 1 -1.2 1.2 H122.7 a1.2 1.2 0 0 1 -1.2 -1.2 Z M129.5 185.5 V191 H135"/>
<path d="M125 194.5 H131.5 M125 198 H131.5" stroke-width="1.3"/></g><path d="M211.7 189.54999999999998 L215 192.85 L218.3 189.54999999999998" fill="none" stroke="#e6e6e6" stroke-width="1.9" stroke-linecap="round" stroke-linejoin="round"/><g stroke-linejoin="round" stroke-linecap="round" fill="none">
<path d="M113 229.3 L124.3 222.6 L132.6 232.2 L122.6 239.6 Z" stroke="#f5c869" stroke-width="1.6"/>
<path d="M116.8 233.2 C121 232 125 234.5 129.8 234.4 L122.6 239.6 Z" fill="#f0a62c" stroke="#f0a62c" stroke-width="1"/>
<path d="M124.8 222.2 L128.3 219.3 L135.6 227.6 L132.4 230.9" stroke="#e8e8e8" stroke-width="1.6"/>
<path d="M129.6 220 L134.3 216 a1.9 1.9 0 0 1 2.7 2.6 L133 224" stroke="#e8e8e8" stroke-width="1.6"/></g><path d="M275.5 257.8 H266.3 V267" fill="none" stroke="#dcdcdc" stroke-width="1.7"/><path d="M269.5 261 L276.0 267.5 M276.5 262.5 V268 H271.0" fill="none" stroke="#dcdcdc" stroke-width="1.7"/><rect x="295.5" y="146.7" width="179.5" height="35" rx="5.5" fill="#262626" stroke="#6b6b6b" stroke-width="1.1"/><rect x="480" y="146.7" width="63.5" height="35" rx="5.5" fill="#262626" stroke="#6b6b6b" stroke-width="1.1"/><path d="M463.7 162.85 L467 166.15 L470.3 162.85" fill="none" stroke="#e6e6e6" stroke-width="1.9" stroke-linecap="round" stroke-linejoin="round"/><path d="M531.7 162.85 L535 166.15 L538.3 162.85" fill="none" stroke="#e6e6e6" stroke-width="1.9" stroke-linecap="round" stroke-linejoin="round"/><path d="M570.2 157 L573.4 153.6 L576.6 157" fill="none" stroke="#3d9be0" stroke-width="2" stroke-linecap="round" stroke-linejoin="round"/><path d="M608.6 153.6 L611.8 157 L615 153.6" fill="none" stroke="#3d9be0" stroke-width="2" stroke-linecap="round" stroke-linejoin="round"/><path d="M383.7 221.2 H396.5" stroke="#dcdcdc" stroke-width="1.5"/><path d="M415.7 210.85 L419 214.15 L422.3 210.85" fill="none" stroke="#e6e6e6" stroke-width="1.9" stroke-linecap="round" stroke-linejoin="round"/><g fill="none" stroke="#dcdcdc"><path d="M444 201.3 H467.5 M444 218 H467.5 M444.6 203.8 V216.5 M466.6 203.8 V216.5 M455.6 203.8 V216.5 M447.3 209.6 H465" stroke-width="1.7" stroke-dasharray="1.7 1.65"/>
<circle cx="455.6" cy="209.6" r="1.6" stroke-width="1"/>
<path d="M443.8 222 H467.2" stroke-width="1.9"/></g><path d="M480.7 210.85 L484 214.15 L487.3 210.85" fill="none" stroke="#e6e6e6" stroke-width="1.9" stroke-linecap="round" stroke-linejoin="round"/><g fill="none" stroke="#dcdcdc" stroke-width="1.6" stroke-linejoin="round"><path d="M520.3 203.6 L513.7 210.4 L519.4 216.6 L526.9 209.2 L522.6 204.6"/><path d="M520.4 207.3 V202.6 a1.7 1.7 0 0 1 3.4 0 V205.8"/></g>
<path d="M527.2 205.2 C530.2 205.6 531.6 209.2 530.6 213.4 C529.8 211 528.8 209.6 527.2 209 Z" fill="#4aa3e6"/>
<rect x="508.8" y="218.7" width="23.8" height="5.1" fill="#ffef00"/><path d="M545.7 210.85 L549 214.15 L552.3 210.85" fill="none" stroke="#e6e6e6" stroke-width="1.9" stroke-linecap="round" stroke-linejoin="round"/><rect x="570" y="218.7" width="23.8" height="5.1" fill="#ee1111"/><path d="M606.7 210.85 L610 214.15 L613.3 210.85" fill="none" stroke="#e6e6e6" stroke-width="1.9" stroke-linecap="round" stroke-linejoin="round"/><path d="M625.5 257.8 H616.3 V267" fill="none" stroke="#dcdcdc" stroke-width="1.7"/><path d="M619.5 261 L626.0 267.5 M626.5 262.5 V268 H621.0" fill="none" stroke="#dcdcdc" stroke-width="1.7"/><rect x="685.5" y="146.7" width="35" height="35" rx="6" fill="#3c3c3c" stroke="#7a7a7a" stroke-width="1.1"/><path d="M653.0 152.8 H675.0 M656.0 159 H672.0 M653.0 165.2 H675.0" stroke="#dcdcdc" stroke-width="1.5" fill="none"/><path d="M692.0 157.8 H714.0 M695.0 164 H711.0 M692.0 170.2 H714.0" stroke="#dcdcdc" stroke-width="1.5" fill="none"/><path d="M731.0 162.8 H753.0 M734.0 169 H750.0 M731.0 175.2 H753.0" stroke="#dcdcdc" stroke-width="1.5" fill="none"/><path d="M653 202 H675 M653 208.2 H668 M653 214.4 H675 M653 220.6 H668" stroke="#dcdcdc" stroke-width="1.5" fill="none"/><path d="M692.0 202 H714.0 M695.5 208.2 H710.5 M692.0 214.4 H714.0 M695.5 220.6 H710.5" stroke="#dcdcdc" stroke-width="1.5" fill="none"/><path d="M731 202 H753 M738 208.2 H753 M731 214.4 H753 M738 220.6 H753" stroke="#dcdcdc" stroke-width="1.5" fill="none"/><path d="M781.5 173.5 L796.3 158.7 M789.8 158.2 H796.8 V165.2" fill="none" stroke="#3d9be0" stroke-width="2" stroke-linecap="round" stroke-linejoin="round"/><path d="M806.7 162.85 L810 166.15 L813.3 162.85" fill="none" stroke="#e6e6e6" stroke-width="1.9" stroke-linecap="round" stroke-linejoin="round"/><path d="M774 202 H796 M774 220.6 H796" stroke="#dcdcdc" stroke-width="1.5" fill="none"/><path d="M786 208.2 H796 M786 214.4 H796" stroke="#dcdcdc" stroke-width="1.5" fill="none"/><path d="M775 211.3 H783 M778.3 208 L775 211.3 L778.3 214.6" fill="none" stroke="#3d9be0" stroke-width="2" stroke-linecap="round" stroke-linejoin="round"/><path d="M813 202 H835 M813 220.6 H835" stroke="#dcdcdc" stroke-width="1.5" fill="none"/><path d="M825 208.2 H835 M825 214.4 H835" stroke="#dcdcdc" stroke-width="1.5" fill="none"/><path d="M814 211.3 H822 M818.7 208 L822 211.3 L818.7 214.6" fill="none" stroke="#3d9be0" stroke-width="2" stroke-linecap="round" stroke-linejoin="round"/><path d="M884 163 H888 a3.6 3.6 0 0 1 0 7.2 H881 M884.3 166.8 L880.8 170.2 L884.3 173.6" fill="none" stroke="#3d9be0" stroke-width="1.6" stroke-linecap="round" stroke-linejoin="round"/><g fill="none"><path d="M867.7 200.7 H889.3 V222 H867.7 Z M878.5 200.7 V204 M878.5 218.7 V222" stroke="#dcdcdc" stroke-width="1.5"/>
<rect x="868.5" y="204.3" width="20" height="14" stroke="#3d9be0" stroke-width="1.6"/>
<path d="M872 211.3 H885 M874.8 208.5 L872 211.3 L874.8 214.1 M882.2 208.5 L885 211.3 L882.2 214.1" stroke="#3d9be0" stroke-width="1.5" stroke-linecap="round" stroke-linejoin="round"/></g><path d="M1051.0 211.15 L1054.3 214.45000000000002 L1057.6 211.15" fill="none" stroke="#e6e6e6" stroke-width="1.9" stroke-linecap="round" stroke-linejoin="round"/><path d="M1076.5 257.8 H1067.3 V267" fill="none" stroke="#dcdcdc" stroke-width="1.7"/><path d="M1070.5 261 L1077.0 267.5 M1077.5 262.5 V268 H1072.0" fill="none" stroke="#dcdcdc" stroke-width="1.7"/><rect x="1096.5" y="146.7" width="217" height="35" rx="5.5" fill="#262626" stroke="#6b6b6b" stroke-width="1.1"/><path d="M1301.7 162.85 L1305 166.15 L1308.3 162.85" fill="none" stroke="#e6e6e6" stroke-width="1.9" stroke-linecap="round" stroke-linejoin="round"/><path d="M1138.7 210.85 L1142 214.15 L1145.3 210.85" fill="none" stroke="#e6e6e6" stroke-width="1.9" stroke-linecap="round" stroke-linejoin="round"/><path d="M1215 203 a5 5 0 0 1 5 5.2 c0 6 -3.6 10.6 -9.6 13.4 l-1 -1.9 c3.4 -1.8 5.4 -4.2 5.6 -7 a5 5 0 0 1 0 -9.7 Z" fill="#dcdcdc"/><path d="M1246 205.5 H1257.5 M1249.3 202.2 L1246 205.5 L1249.3 208.8" fill="none" stroke="#3d9be0" stroke-width="1.6" stroke-linecap="round" stroke-linejoin="round"/><path d="M1284.5 217 H1296 M1292.7 213.7 L1296 217 L1292.7 220.3" fill="none" stroke="#3d9be0" stroke-width="1.6" stroke-linecap="round" stroke-linejoin="round"/><path d="M1318.3 257.8 H1309.1 V267" fill="none" stroke="#dcdcdc" stroke-width="1.7"/><path d="M1312.3 261 L1318.8 267.5 M1319.3 262.5 V268 H1313.8" fill="none" stroke="#dcdcdc" stroke-width="1.7"/><path d="M1348.5 146.3 H1389.0 V177.3 H1348.5 Z M1362.0 146.3 V177.3 M1375.5 146.3 V177.3 M1348.5 156.6 H1389.0 M1348.5 167.0 H1389.0" fill="none" stroke="#d6d6d6" stroke-width="1.9"/><rect x="1364" y="156.2" width="28.5" height="11.3" fill="#1272c4"/><path d="M1376 156.2 V167.5 M1384.5 156.2 V167.5" stroke="#8cc4f2" stroke-width="1"/><path d="M1346.5 161.8 H1366 M1353.5 154.5 L1346.5 161.8 L1353.5 169.1" fill="none" stroke="#3d9be0" stroke-width="1.9" stroke-linecap="round" stroke-linejoin="round"/><path d="M1364.7 224.65 L1368 227.95000000000002 L1371.3 224.65" fill="none" stroke="#e6e6e6" stroke-width="1.9" stroke-linecap="round" stroke-linejoin="round"/><path d="M1413.7 146.3 H1454.2 V177.3 H1413.7 Z M1427.2 146.3 V177.3 M1440.7 146.3 V177.3 M1413.7 156.6 H1454.2 M1413.7 167.0 H1454.2" fill="none" stroke="#d6d6d6" stroke-width="1.9"/><rect x="1420" y="156.2" width="22" height="11.3" fill="#1272c4"/><path d="M1432.5 156.2 V167.5" stroke="#8cc4f2" stroke-width="1"/><path d="M1442 156.2 L1447 161.8 L1442 167.5 Z" fill="#1272c4"/><path d="M1440.5 155 L1455.5 170.5 M1455.5 155 L1440.5 170.5" fill="none" stroke="#e8564f" stroke-width="1.8" stroke-linecap="round"/><path d="M1429.7 224.65 L1433 227.95000000000002 L1436.3 224.65" fill="none" stroke="#e6e6e6" stroke-width="1.9" stroke-linecap="round" stroke-linejoin="round"/><path d="M1480 146.3 H1520 V177.3 H1480 Z M1493.3 146.3 V177.3 M1506.7 146.3 V177.3 M1480 156.6 H1520 M1480 167.0 H1520" fill="none" stroke="#d6d6d6" stroke-width="1.9"/><rect x="1490.5" y="156.2" width="19.5" height="11.3" fill="#1272c4"/><path d="M1488.5 139.5 H1511.5 M1488.5 137 V142 M1511.5 137 V142" fill="none" stroke="#3d9be0" stroke-width="1.5"/><path d="M1496.0 222.65 L1499.3 225.95000000000002 L1502.6 222.65" fill="none" stroke="#e6e6e6" stroke-width="1.9" stroke-linecap="round" stroke-linejoin="round"/><path d="M1582.5 146 V142.7 H1566.5 L1575.5 152.3 L1566.5 162 H1582.5 V158.7" fill="none" stroke="#dcdcdc" stroke-width="1.6" stroke-linejoin="round"/><path d="M1696.0 151.15 L1699.3 154.45000000000002 L1702.6 151.15" fill="none" stroke="#e6e6e6" stroke-width="1.9" stroke-linecap="round" stroke-linejoin="round"/><path d="M1563.8 181.2 H1586 M1563.8 184.5 H1586 V200.5 H1563.8 Z" fill="none" stroke="#dcdcdc" stroke-width="1.6"/><path d="M1575 187.5 V197 M1571 193.3 L1575 197.3 L1579 193.3" fill="none" stroke="#3d9be0" stroke-width="1.6" stroke-linecap="round" stroke-linejoin="round"/><path d="M1621.0 189.04999999999998 L1624.3 192.35 L1627.6 189.04999999999998" fill="none" stroke="#e6e6e6" stroke-width="1.9" stroke-linecap="round" stroke-linejoin="round"/><path d="M1564 231 L1576.5 219.5 L1585.5 229 L1573 240.5 Z" fill="none" stroke="#c75fd0" stroke-width="1.6" stroke-linejoin="round"/><path d="M1564 231 L1569.7 225.8 L1578.7 235.3 L1573 240.5 Z" fill="#b84cc4" stroke="#c75fd0" stroke-width="1.2" stroke-linejoin="round"/><path d="M1638.7 228.15 L1642 231.45000000000002 L1645.3 228.15" fill="none" stroke="#e6e6e6" stroke-width="1.9" stroke-linecap="round" stroke-linejoin="round"/><path d="M1749.5 152.5 H1771.5 L1763.5 163.5 V174.5 H1757.5 V163.5 Z" fill="none" stroke="#dcdcdc" stroke-width="1.6" stroke-linejoin="round"/><path d="M1768.7 223.15 L1772 226.45000000000002 L1775.3 223.15" fill="none" stroke="#e6e6e6" stroke-width="1.9" stroke-linecap="round" stroke-linejoin="round"/><circle cx="1826.3" cy="157" r="15.2" fill="none" stroke="#dcdcdc" stroke-width="1.6"/><path d="M1815.5 168 L1799 184" stroke="#dcdcdc" stroke-width="1.8" stroke-linecap="round"/><path d="M1843.0 223.15 L1846.3 226.45000000000002 L1849.6 223.15" fill="none" stroke="#e6e6e6" stroke-width="1.9" stroke-linecap="round" stroke-linejoin="round"/><g fill="none" stroke="#c8532b"><rect x="1895.5" y="141.5" width="41" height="40.5" stroke-width="2"/><path d="M1916 141.5 V182 M1895.5 161.7 H1936.5" stroke-width="5"/><path d="M1916 141.5 V182 M1895.5 161.7 H1936.5" stroke="#292929" stroke-width="1.6"/><rect x="1901" y="147" width="10.5" height="10.5" stroke-width="1.6"/><rect x="1920.5" y="147" width="10.5" height="10.5" stroke-width="1.6"/><rect x="1901" y="166" width="10.5" height="10.5" stroke-width="1.6"/><rect x="1920.5" y="166" width="10.5" height="10.5" stroke-width="1.6"/></g><g fill="none" stroke="#c8c8c8" stroke-width="1.5"><rect x="1989.5" y="142" width="41" height="40"/><path d="M1989.5 146.5 H2030.5" stroke-width="3" stroke="#8a8a8a"/>
<path d="M1989.5 156 H2030.5 M1989.5 165 H2030.5 M1989.5 174 H2030.5 M2003 146.5 V182 M2017 146.5 V182"/>
<circle cx="2008.5" cy="159.5" r="13" fill="#292929" stroke="#dcdcdc" stroke-width="1.7"/><path d="M2017.5 169.5 L2030 182" stroke="#dcdcdc" stroke-width="2"/></g>
<rect x="2001" y="157" width="4" height="7.5" fill="#9a9a9a"/><rect x="2006" y="152" width="4" height="12.5" fill="none" stroke="#dcdcdc" stroke-width="1.2"/><rect x="2011" y="154.5" width="4" height="10" fill="#3d9be0"/><path d="M2851.3 254.5 L2857.3 260.5 L2863.3 254.5" fill="none" stroke="#e6e6e6" stroke-width="1.7" stroke-linecap="round" stroke-linejoin="round"/><circle cx="2212.5" cy="198.8" r="56" fill="#fff"/><rect x="2181.8" y="173" width="61.2" height="52.8" fill="#5b67e8"/><rect x="2190" y="181" width="18.5" height="14.5" fill="#fff"/><rect x="2216.5" y="181" width="18.5" height="14.5" fill="#fff"/><rect x="2190" y="203.3" width="18.5" height="14.5" fill="#fff"/><rect x="2216.5" y="203.3" width="18.5" height="14.5" fill="#fff"/></svg>
<span class="t" style="font:normal 18.3px/21.96px 'Liberation Sans', sans-serif;color:#7c7c7c;top:193.29px;left:50.7px;transform-origin:0 50%;transform:scaleX(0.8951);">Paste</span>
<span class="t" style="font:normal 18.3px/21.96px 'Liberation Sans', sans-serif;color:#f4f4f4;top:142.09px;left:141.27px;">Cut</span>
<span class="t" style="font:normal 18.3px/21.96px 'Liberation Sans', sans-serif;color:#f4f4f4;top:181.59px;letter-spacing:0.175px;left:141.27px;">Copy</span>
<span class="t" style="font:normal 18.3px/21.96px 'Liberation Sans', sans-serif;color:#f4f4f4;top:220.09px;letter-spacing:-0.303px;left:141.27px;">Format Painter</span>
<span class="t" style="font:normal 15.5px/18.6px 'Liberation Sans', sans-serif;color:#f4f4f4;top:253.53px;letter-spacing:0.329px;left:108.63px;">Clipboard</span>
<span class="t" style="font:normal 18.3px/21.96px 'Liberation Sans', sans-serif;color:#f4f4f4;top:154.29px;letter-spacing:-0.117px;left:297.52px;">Tahoma</span>
<span class="t" style="font:normal 18.3px/21.96px 'Liberation Sans', sans-serif;color:#f4f4f4;top:154.29px;letter-spacing:0.092px;left:481.97px;">8</span>
<span class="t" style="font:normal 25px/30.0px 'Liberation Sans', sans-serif;color:#dcdcdc;top:147.88px;letter-spacing:2.312px;left:553.5px;">A</span>
<span class="t" style="font:normal 20.5px/24.6px 'Liberation Sans', sans-serif;color:#dcdcdc;top:152.81px;letter-spacing:1.953px;left:594.68px;">A</span>
<span class="t" style="font:bold 21px/25.2px 'Liberation Sans', sans-serif;color:#dcdcdc;top:198.52px;left:-287.0px;width:1200px;text-align:center;">B</span>
<span class="t" style="font:normal 20px/24.0px 'Liberation Serif', serif;color:#dcdcdc;top:199.6px;left:-248.25px;width:1200px;text-align:center;font-style:italic;">I</span>
<span class="t" style="font:normal 19px/22.8px 'Liberation Sans', sans-serif;color:#dcdcdc;top:199.08px;letter-spacing:0.286px;left:382.99px;">U</span>
<span class="t" style="font:normal 24px/28.8px 'Liberation Sans', sans-serif;color:#dcdcdc;top:194.16px;left:-18.12px;width:1200px;text-align:center;">A</span>
<span class="t" style="font:normal 15.5px/18.6px 'Liberation Sans', sans-serif;color:#f4f4f4;top:253.53px;letter-spacing:0.325px;left:429.38px;">Font</span>
<span class="t" style="font:normal 16.5px/19.8px 'Liberation Sans', sans-serif;color:#dcdcdc;top:150.55px;left:181.5px;width:1200px;text-align:center;transform:rotate(-45deg);transform-origin:50% 50%;">ab</span>
<span class="t" style="font:normal 15px/18.0px 'Liberation Sans', sans-serif;color:#dcdcdc;top:148.53px;left:869.9px;">ab</span>
<span class="t" style="font:normal 15px/18.0px 'Liberation Sans', sans-serif;color:#dcdcdc;top:160.42px;left:870.4px;">c</span>
<span class="t" style="font:normal 18.3px/21.96px 'Liberation Sans', sans-serif;color:#f4f4f4;top:154.49px;letter-spacing:-0.333px;left:896.77px;">Wrap Text</span>
<span class="t" style="font:normal 18.3px/21.96px 'Liberation Sans', sans-serif;color:#f4f4f4;top:202.49px;letter-spacing:-0.160px;left:896.77px;">Merge &amp; Center</span>
<span class="t" style="font:normal 15.5px/18.6px 'Liberation Sans', sans-serif;color:#f4f4f4;top:253.53px;letter-spacing:0.475px;left:809.88px;">Alignment</span>
<span class="t" style="font:normal 18.3px/21.96px 'Liberation Sans', sans-serif;color:#f4f4f4;top:154.29px;left:1098.95px;transform-origin:0 50%;transform:scaleX(0.9085);">General</span>
<span class="t" style="font:normal 23px/27.6px 'Liberation Sans', sans-serif;color:#dcdcdc;top:199.54px;left:513.12px;width:1200px;text-align:center;">$</span>
<span class="t" style="font:normal 24px/28.8px 'Liberation Sans', sans-serif;color:#dcdcdc;top:198.96px;left:575.0px;width:1200px;text-align:center;">%</span>
<span class="t" style="font:normal 14.5px/17.4px 'Liberation Sans', sans-serif;color:#dcdcdc;top:197.12px;left:664.0px;width:1200px;text-align:center;">0</span>
<span class="t" style="font:normal 14.5px/17.4px 'Liberation Sans', sans-serif;color:#dcdcdc;top:209.12px;left:68px;width:1200px;text-align:right;">.00</span>
<span class="t" style="font:normal 14.5px/17.4px 'Liberation Sans', sans-serif;color:#dcdcdc;top:197.12px;left:107.5px;width:1200px;text-align:right;">.00</span>
<span class="t" style="font:normal 14.5px/17.4px 'Liberation Sans', sans-serif;color:#dcdcdc;top:209.12px;left:107.5px;width:1200px;text-align:right;">.0</span>
<span class="t" style="font:normal 15.5px/18.6px 'Liberation Sans', sans-serif;color:#f4f4f4;top:253.53px;letter-spacing:0.570px;left:1162.63px;">Number</span>
<span class="t" style="font:normal 18.3px/21.96px 'Liberation Sans', sans-serif;color:#f4f4f4;top:193.29px;letter-spacing:-0.104px;left:1346.77px;">Insert</span>
<span class="t" style="font:normal 18.3px/21.96px 'Liberation Sans', sans-serif;color:#f4f4f4;top:193.29px;letter-spacing:-0.429px;left:1408.77px;">Delete</span>
<span class="t" style="font:normal 18.3px/21.96px 'Liberation Sans', sans-serif;color:#f4f4f4;top:191.49px;letter-spacing:-0.038px;left:1471.77px;">Format</span>
<span class="t" style="font:normal 15.5px/18.6px 'Liberation Sans', sans-serif;color:#f4f4f4;top:254.13px;letter-spacing:-0.303px;left:1417.38px;">Cells</span>
<span class="t" style="font:normal 18.3px/21.96px 'Liberation Sans', sans-serif;color:#f4f4f4;top:142.49px;letter-spacing:-0.082px;left:1592.27px;">AutoSum</span>
<span class="t" style="font:normal 18.3px/21.96px 'Liberation Sans', sans-serif;color:#f4f4f4;top:180.79px;left:1593.2px;transform-origin:0 50%;transform:scaleX(0.8711);">Fill</span>
<span class="t" style="font:normal 18.3px/21.96px 'Liberation Sans', sans-serif;color:#f4f4f4;top:220.09px;left:1592.45px;transform-origin:0 50%;transform:scaleX(0.9007);">Clear</span>
<span class="t" style="font:normal 23.5px/28.2px 'Liberation Sans', sans-serif;color:#3d9be0;top:136.85px;left:1137.5px;width:1200px;text-align:center;">A</span>
<span class="t" style="font:normal 23.5px/28.2px 'Liberation Sans', sans-serif;color:#dcdcdc;top:158.65px;left:1137.5px;width:1200px;text-align:center;">Z</span>
<span class="t" style="font:normal 18.3px/21.96px 'Liberation Sans', sans-serif;color:#f4f4f4;top:191.49px;letter-spacing:0.530px;left:1724.27px;">Sort &amp;</span>
<span class="t" style="font:normal 18.3px/21.96px 'Liberation Sans', sans-serif;color:#f4f4f4;top:215.29px;left:1723.95px;transform-origin:0 50%;transform:scaleX(0.9316);">Filter</span>
<span class="t" style="font:normal 18.3px/21.96px 'Liberation Sans', sans-serif;color:#f4f4f4;top:191.49px;letter-spacing:0.224px;left:1794.27px;">Find &amp;</span>
<span class="t" style="font:normal 18.3px/21.96px 'Liberation Sans', sans-serif;color:#f4f4f4;top:215.29px;left:1789.45px;transform-origin:0 50%;transform:scaleX(0.9318);">Select</span>
<span class="t" style="font:normal 15.5px/18.6px 'Liberation Sans', sans-serif;color:#f4f4f4;top:254.13px;letter-spacing:0.222px;left:1681.88px;">Editing</span>
<span class="t" style="font:normal 18.3px/21.96px 'Liberation Sans', sans-serif;color:#f4f4f4;top:191.49px;letter-spacing:0.244px;left:1884.77px;">Add-ins</span>
<span class="t" style="font:normal 15.5px/18.6px 'Liberation Sans', sans-serif;color:#f4f4f4;top:254.13px;letter-spacing:0.321px;left:1887.63px;">Add-ins</span>
<span class="t" style="font:normal 18.3px/21.96px 'Liberation Sans', sans-serif;color:#f4f4f4;top:191.49px;left:1979.95px;transform-origin:0 50%;transform:scaleX(0.9508);">Analyze</span>
<span class="t" style="font:normal 18.3px/21.96px 'Liberation Sans', sans-serif;color:#f4f4f4;top:215.29px;left:1991.95px;transform-origin:0 50%;transform:scaleX(0.9540);">Data</span>
<span class="t" style="font:bold 48px/57.6px 'Liberation Sans', sans-serif;color:#fff;top:152.12px;left:2294.56px;transform-origin:0 50%;transform:scaleX(0.9372);-webkit-text-stroke:2.3px #fff;">FINMODELSLAB</span>
<span class="t" style="font:normal 35px/42.0px 'Liberation Sans', sans-serif;color:#fff;top:204.22px;letter-spacing:25.221px;left:2293.6px;">Templates</span>
<svg width="2902" height="1762"><g transform="translate(-9.02 0)"><rect x="2426.2" y="153" width="9.6" height="29" rx="4.8" fill="#fff" stroke="#292929" stroke-width="3.2"/></g></svg>
<span class="t" style="font:bold 30px/36.0px 'DejaVu Sans Condensed', 'DejaVu Sans', 'Liberation Sans', sans-serif;color:#222;top:301.05px;font-stretch:condensed;-webkit-text-stroke:0.39px #222;left:75.35px;transform-origin:0 50%;transform:scaleX(1.0153);">Scenario Analysis</span>
<span class="t" style="font:bold 25px/30.0px 'DejaVu Sans Condensed', 'DejaVu Sans', 'Liberation Sans', sans-serif;color:#000;top:336.98px;font-stretch:condensed;-webkit-text-stroke:0.33px #000;left:75.5px;transform-origin:0 50%;transform:scaleX(1.0562);">ABC Company Inc.</span>
<span class="t" style="font:bold 18px/21.6px 'DejaVu Sans Condensed', 'DejaVu Sans', 'Liberation Sans', sans-serif;color:#2374ea;top:371.77px;font-stretch:condensed;-webkit-text-stroke:0.23px #2374ea;left:73.71px;transform-origin:0 50%;transform:scaleX(0.9842);text-decoration:underline;text-decoration-thickness:1.6px;text-underline-offset:1.2px;">Go to Table of Contents</span>
<div style="left:47px;top:421px;width:2813px;height:1px;background:#9a9a9a;"></div>
<div style="left:70px;top:422px;width:605px;height:27.5px;background:#4b50d3;"></div>
<div style="left:70.5px;top:457.75px;width:604.5px;height:30.75px;background:#4ab3e8;"></div>
<span class="t" style="font:bold 20.6px/24.72px 'DejaVu Sans Condensed', 'DejaVu Sans', 'Liberation Sans', sans-serif;color:#fff;top:424.25px;font-stretch:condensed;-webkit-text-stroke:0.27px #fff;left:199.38px;transform-origin:0 50%;transform:scaleX(1.0794);">5-Years Revenue ($'000) - Base</span>
<span class="t" style="font:bold 20px/24.0px 'DejaVu Sans Condensed', 'DejaVu Sans', 'Liberation Sans', sans-serif;color:#fff;top:461.5px;font-stretch:condensed;-webkit-text-stroke:0.26px #fff;left:340.15px;transform-origin:0 50%;transform:scaleX(1.0093);">5,101</span>
<div style="left:854.5px;top:422px;width:606.0px;height:27.5px;background:#4b50d3;"></div>
<div style="left:855.0px;top:457.75px;width:605.5px;height:30.75px;background:#4ab3e8;"></div>
<span class="t" style="font:bold 20.6px/24.72px 'DejaVu Sans Condensed', 'DejaVu Sans', 'Liberation Sans', sans-serif;color:#fff;top:424.25px;font-stretch:condensed;-webkit-text-stroke:0.27px #fff;left:958.88px;transform-origin:0 50%;transform:scaleX(1.0744);">5-Years Gross Margin ($'000) - Base</span>
<span class="t" style="font:bold 20px/24.0px 'DejaVu Sans Condensed', 'DejaVu Sans', 'Liberation Sans', sans-serif;color:#fff;top:461.5px;font-stretch:condensed;-webkit-text-stroke:0.26px #fff;left:1123.9px;transform-origin:0 50%;transform:scaleX(1.0225);">4,671</span>
<div style="left:1639.5px;top:422px;width:576.0px;height:27.5px;background:#4b50d3;"></div>
<div style="left:1640.0px;top:457.75px;width:575.5px;height:30.75px;background:#4ab3e8;"></div>
<span class="t" style="font:bold 20.6px/24.72px 'DejaVu Sans Condensed', 'DejaVu Sans', 'Liberation Sans', sans-serif;color:#fff;top:424.25px;font-stretch:condensed;-webkit-text-stroke:0.27px #fff;left:1758.88px;transform-origin:0 50%;transform:scaleX(1.0990);">5-Years EBITDA ($'000) - Base</span>
<span class="t" style="font:bold 20px/24.0px 'DejaVu Sans Condensed', 'DejaVu Sans', 'Liberation Sans', sans-serif;color:#fff;top:461.5px;font-stretch:condensed;-webkit-text-stroke:0.26px #fff;left:1894.9px;transform-origin:0 50%;transform:scaleX(1.0137);">1,600</span>
<div style="left:70px;top:503px;width:1043.75px;height:33.75px;background:#4b50d3;"></div>
<span class="t" style="font:bold 25.5px/30.6px 'DejaVu Sans Condensed', 'DejaVu Sans', 'Liberation Sans', sans-serif;color:#fff;top:505.38px;font-stretch:condensed;-webkit-text-stroke:0.33px #fff;left:199.74px;transform-origin:0 50%;transform:scaleX(1.0172);">Gross Margin Scenarios ($'000) - 5 years to December 2030</span>
<div style="left:1157px;top:503px;width:1058.75px;height:33.75px;background:#4b50d3;"></div>
<span class="t" style="font:bold 25.5px/30.6px 'DejaVu Sans Condensed', 'DejaVu Sans', 'Liberation Sans', sans-serif;color:#fff;top:505.38px;font-stretch:condensed;-webkit-text-stroke:0.33px #fff;left:1324.23px;transform-origin:0 50%;transform:scaleX(1.0193);">Revenue Scenarios ($'000) - 5 years to December 2030</span>
<div style="left:70px;top:1047px;width:1043.75px;height:33.75px;background:#4b50d3;"></div>
<span class="t" style="font:bold 25.5px/30.6px 'DejaVu Sans Condensed', 'DejaVu Sans', 'Liberation Sans', sans-serif;color:#fff;top:1049.38px;font-stretch:condensed;-webkit-text-stroke:0.33px #fff;left:153.24px;transform-origin:0 50%;transform:scaleX(1.0200);">Contribution Margin Scenarios ($'000) - 5 years to December 2030</span>
<div style="left:1157px;top:1047px;width:1058.75px;height:33.75px;background:#4b50d3;"></div>
<span class="t" style="font:bold 25.5px/30.6px 'DejaVu Sans Condensed', 'DejaVu Sans', 'Liberation Sans', sans-serif;color:#fff;top:1049.38px;font-stretch:condensed;-webkit-text-stroke:0.33px #fff;left:1329.98px;transform-origin:0 50%;transform:scaleX(1.0289);">EBITDA Scenarios ($'000) - 5 years to December 2030</span>
<svg width="2902" height="1762" viewBox="0 0 2902 1762"><path d="M147 686.5 H1059" stroke="#4aa6da" stroke-width="1" shape-rendering="crispEdges"/><path d="M147 760.5 H1059" stroke="#4aa6da" stroke-width="1" shape-rendering="crispEdges"/><path d="M147 835.5 H1059" stroke="#4aa6da" stroke-width="1" shape-rendering="crispEdges"/><path d="M147 909.5 H1059" stroke="#4aa6da" stroke-width="1" shape-rendering="crispEdges"/><path d="M329.5 612 V983.7" stroke="#4aa6da" stroke-width="1" shape-rendering="crispEdges"/><path d="M511.5 612 V983.7" stroke="#4aa6da" stroke-width="1" shape-rendering="crispEdges"/><path d="M694.5 612 V983.7" stroke="#4aa6da" stroke-width="1" shape-rendering="crispEdges"/><path d="M876.5 612 V983.7" stroke="#4aa6da" stroke-width="1" shape-rendering="crispEdges"/><rect x="147" y="612" width="912" height="371.70000000000005" fill="none" stroke="#4aa6da" stroke-width="2"/><path d="M146 983.7 H1060" stroke="#45a6dc" stroke-width="2.2"/><path d="M147.00 983.7 V989.7" stroke="#4aa6da" stroke-width="1.2"/><path d="M329.40 983.7 V989.7" stroke="#4aa6da" stroke-width="1.2"/><path d="M511.80 983.7 V989.7" stroke="#4aa6da" stroke-width="1.2"/><path d="M694.20 983.7 V989.7" stroke="#4aa6da" stroke-width="1.2"/><path d="M876.60 983.7 V989.7" stroke="#4aa6da" stroke-width="1.2"/><path d="M1059.00 983.7 V989.7" stroke="#4aa6da" stroke-width="1.2"/><path d="M238.3 972.0 L420.3 943.0 L603.3 884.5 L784.7 802.5 L966.7 708.0" fill="none" stroke="#ed7a6d" stroke-width="3" stroke-linejoin="round" stroke-linecap="round"/><path d="M238.3 968.3 L420.3 937.0 L603.3 870.5 L784.7 777.0 L966.7 672.5" fill="none" stroke="#4bb0e8" stroke-width="3" stroke-linejoin="round" stroke-linecap="round"/><path d="M238.3 965.5 L420.3 928.0 L603.3 855.5 L784.7 752.5 L966.7 635.5" fill="none" stroke="#2bb3a2" stroke-width="3" stroke-linejoin="round" stroke-linecap="round"/><path d="M238.3 965.0 L245.1 977.2 L231.5 977.2 Z" fill="#ed7a6d"/><path d="M420.3 936.0 L427.1 948.2 L413.5 948.2 Z" fill="#ed7a6d"/><path d="M603.3 877.5 L610.1 889.7 L596.5 889.7 Z" fill="#ed7a6d"/><path d="M784.7 795.5 L791.5 807.7 L777.9 807.7 Z" fill="#ed7a6d"/><path d="M966.7 701.0 L973.5 713.2 L959.9 713.2 Z" fill="#ed7a6d"/><path d="M238.3 961.7 L244.9 968.3 L238.3 974.9 L231.7 968.3 Z" fill="#4bb0e8"/><path d="M420.3 930.4 L426.9 937.0 L420.3 943.6 L413.7 937.0 Z" fill="#4bb0e8"/><path d="M603.3 863.9 L609.9 870.5 L603.3 877.1 L596.7 870.5 Z" fill="#4bb0e8"/><path d="M784.7 770.4 L791.3 777.0 L784.7 783.6 L778.1 777.0 Z" fill="#4bb0e8"/><path d="M966.7 665.9 L973.3 672.5 L966.7 679.1 L960.1 672.5 Z" fill="#4bb0e8"/><rect x="232.1" y="959.3" width="12.4" height="12.4" fill="#2bb3a2"/><rect x="414.1" y="921.8" width="12.4" height="12.4" fill="#2bb3a2"/><rect x="597.1" y="849.3" width="12.4" height="12.4" fill="#2bb3a2"/><rect x="778.5" y="746.3" width="12.4" height="12.4" fill="#2bb3a2"/><rect x="960.5" y="629.3" width="12.4" height="12.4" fill="#2bb3a2"/><path d="M182.5 571.7 H226.3" stroke="#ed7a6d" stroke-width="3" stroke-linecap="round"/><path d="M204.4 566.7 L209.20000000000002 575.5 L199.6 575.5 Z" fill="#ed7a6d"/><path d="M467.5 571.7 H512" stroke="#4bb0e8" stroke-width="3" stroke-linecap="round"/><path d="M489.75 567.1 L494.35 571.7 L489.75 576.3000000000001 L485.15 571.7 Z" fill="#4bb0e8"/><path d="M759.5 571.7 H803.7" stroke="#2bb3a2" stroke-width="3" stroke-linecap="round"/><rect x="777.3" y="567.4" width="8.6" height="8.6" fill="#2bb3a2"/><path d="M1237 678.5 H2198" stroke="#4aa6da" stroke-width="1" shape-rendering="crispEdges"/><path d="M1237 740.5 H2198" stroke="#4aa6da" stroke-width="1" shape-rendering="crispEdges"/><path d="M1237 801.5 H2198" stroke="#4aa6da" stroke-width="1" shape-rendering="crispEdges"/><path d="M1237 863.5 H2198" stroke="#4aa6da" stroke-width="1" shape-rendering="crispEdges"/><path d="M1237 925.5 H2198" stroke="#4aa6da" stroke-width="1" shape-rendering="crispEdges"/><path d="M1429.5 616.5 V987" stroke="#4aa6da" stroke-width="1" shape-rendering="crispEdges"/><path d="M1621.5 616.5 V987" stroke="#4aa6da" stroke-width="1" shape-rendering="crispEdges"/><path d="M1813.5 616.5 V987" stroke="#4aa6da" stroke-width="1" shape-rendering="crispEdges"/><path d="M2005.5 616.5 V987" stroke="#4aa6da" stroke-width="1" shape-rendering="crispEdges"/><rect x="1237" y="616.5" width="961" height="370.5" fill="none" stroke="#4aa6da" stroke-width="2"/><path d="M1236 987 H2199" stroke="#45a6dc" stroke-width="2.2"/><path d="M1237.00 987 V993" stroke="#4aa6da" stroke-width="1.2"/><path d="M1429.20 987 V993" stroke="#4aa6da" stroke-width="1.2"/><path d="M1621.40 987 V993" stroke="#4aa6da" stroke-width="1.2"/><path d="M1813.60 987 V993" stroke="#4aa6da" stroke-width="1.2"/><path d="M2005.80 987 V993" stroke="#4aa6da" stroke-width="1.2"/><path d="M2198.00 987 V993" stroke="#4aa6da" stroke-width="1.2"/><path d="M1332.7 976.0 L1525.0 948.8 L1717.0 894.5 L1909.0 819.5 L2100.8 736.0" fill="none" stroke="#ed7a6d" stroke-width="3" stroke-linejoin="round" stroke-linecap="round"/><path d="M1332.7 972.3 L1525.0 943.0 L1717.0 883.3 L1909.0 800.5 L2100.8 707.5" fill="none" stroke="#4bb0e8" stroke-width="3" stroke-linejoin="round" stroke-linecap="round"/><path d="M1332.7 970.0 L1525.0 937.0 L1717.0 871.3 L1909.0 780.3 L2100.8 678.5" fill="none" stroke="#2bb3a2" stroke-width="3" stroke-linejoin="round" stroke-linecap="round"/><path d="M1332.7 969.0 L1339.5 981.2 L1325.9 981.2 Z" fill="#ed7a6d"/><path d="M1525.0 941.8 L1531.8 954.0 L1518.2 954.0 Z" fill="#ed7a6d"/><path d="M1717.0 887.5 L1723.8 899.7 L1710.2 899.7 Z" fill="#ed7a6d"/><path d="M1909.0 812.5 L1915.8 824.7 L1902.2 824.7 Z" fill="#ed7a6d"/><path d="M2100.8 729.0 L2107.6 741.2 L2094.0 741.2 Z" fill="#ed7a6d"/><path d="M1332.7 965.7 L1339.3 972.3 L1332.7 978.9 L1326.1 972.3 Z" fill="#4bb0e8"/><path d="M1525.0 936.4 L1531.6 943.0 L1525.0 949.6 L1518.4 943.0 Z" fill="#4bb0e8"/><path d="M1717.0 876.7 L1723.6 883.3 L1717.0 889.9 L1710.4 883.3 Z" fill="#4bb0e8"/><path d="M1909.0 793.9 L1915.6 800.5 L1909.0 807.1 L1902.4 800.5 Z" fill="#4bb0e8"/><path d="M2100.8 700.9 L2107.4 707.5 L2100.8 714.1 L2094.2 707.5 Z" fill="#4bb0e8"/><rect x="1326.5" y="963.8" width="12.4" height="12.4" fill="#2bb3a2"/><rect x="1518.8" y="930.8" width="12.4" height="12.4" fill="#2bb3a2"/><rect x="1710.8" y="865.1" width="12.4" height="12.4" fill="#2bb3a2"/><rect x="1902.8" y="774.1" width="12.4" height="12.4" fill="#2bb3a2"/><rect x="2094.6" y="672.3" width="12.4" height="12.4" fill="#2bb3a2"/><path d="M1317.5 575.5 H1361.5" stroke="#ed7a6d" stroke-width="3" stroke-linecap="round"/><path d="M1339.5 570.5 L1344.3 579.3 L1334.7 579.3 Z" fill="#ed7a6d"/><path d="M1603.8 575.5 H1647.5" stroke="#4bb0e8" stroke-width="3" stroke-linecap="round"/><path d="M1625.65 570.9 L1630.25 575.5 L1625.65 580.1 L1621.0500000000002 575.5 Z" fill="#4bb0e8"/><path d="M1894.5 575.5 H1938.8" stroke="#2bb3a2" stroke-width="3" stroke-linecap="round"/><rect x="1912.4" y="571.2" width="8.6" height="8.6" fill="#2bb3a2"/><path d="M150.5 1243.5 H1103.5" stroke="#4aa6da" stroke-width="1" shape-rendering="crispEdges"/><path d="M150.5 1324.5 H1103.5" stroke="#4aa6da" stroke-width="1" shape-rendering="crispEdges"/><path d="M150.5 1404.5 H1103.5" stroke="#4aa6da" stroke-width="1" shape-rendering="crispEdges"/><path d="M150.5 1485.5 H1103.5" stroke="#4aa6da" stroke-width="1" shape-rendering="crispEdges"/><path d="M341.5 1162.5 V1566.5" stroke="#4aa6da" stroke-width="1" shape-rendering="crispEdges"/><path d="M531.5 1162.5 V1566.5" stroke="#4aa6da" stroke-width="1" shape-rendering="crispEdges"/><path d="M722.5 1162.5 V1566.5" stroke="#4aa6da" stroke-width="1" shape-rendering="crispEdges"/><path d="M912.5 1162.5 V1566.5" stroke="#4aa6da" stroke-width="1" shape-rendering="crispEdges"/><rect x="150.5" y="1162.5" width="953.0" height="404.0" fill="none" stroke="#4aa6da" stroke-width="2"/><path d="M149.5 1566.5 H1104.5" stroke="#45a6dc" stroke-width="2.2"/><path d="M150.50 1566.5 V1572.5" stroke="#4aa6da" stroke-width="1.2"/><path d="M341.10 1566.5 V1572.5" stroke="#4aa6da" stroke-width="1.2"/><path d="M531.70 1566.5 V1572.5" stroke="#4aa6da" stroke-width="1.2"/><path d="M722.30 1566.5 V1572.5" stroke="#4aa6da" stroke-width="1.2"/><path d="M912.90 1566.5 V1572.5" stroke="#4aa6da" stroke-width="1.2"/><path d="M1103.50 1566.5 V1572.5" stroke="#4aa6da" stroke-width="1.2"/><path d="M245.3 1555.5 L435.8 1525.7 L626.3 1466.0 L817.0 1381.0 L1008.0 1284.5" fill="none" stroke="#ed7a6d" stroke-width="3" stroke-linejoin="round" stroke-linecap="round"/><path d="M245.3 1551.0 L435.8 1517.5 L626.3 1450.0 L817.0 1353.0 L1008.0 1242.5" fill="none" stroke="#4bb0e8" stroke-width="3" stroke-linejoin="round" stroke-linecap="round"/><path d="M245.3 1547.0 L435.8 1509.5 L626.3 1433.0 L817.0 1325.5 L1008.0 1201.5" fill="none" stroke="#2bb3a2" stroke-width="3" stroke-linejoin="round" stroke-linecap="round"/><path d="M245.3 1548.5 L252.1 1560.7 L238.5 1560.7 Z" fill="#ed7a6d"/><path d="M435.8 1518.7 L442.6 1530.9 L429.0 1530.9 Z" fill="#ed7a6d"/><path d="M626.3 1459.0 L633.1 1471.2 L619.5 1471.2 Z" fill="#ed7a6d"/><path d="M817.0 1374.0 L823.8 1386.2 L810.2 1386.2 Z" fill="#ed7a6d"/><path d="M1008.0 1277.5 L1014.8 1289.7 L1001.2 1289.7 Z" fill="#ed7a6d"/><path d="M245.3 1544.4 L251.9 1551.0 L245.3 1557.6 L238.7 1551.0 Z" fill="#4bb0e8"/><path d="M435.8 1510.9 L442.4 1517.5 L435.8 1524.1 L429.2 1517.5 Z" fill="#4bb0e8"/><path d="M626.3 1443.4 L632.9 1450.0 L626.3 1456.6 L619.7 1450.0 Z" fill="#4bb0e8"/><path d="M817.0 1346.4 L823.6 1353.0 L817.0 1359.6 L810.4 1353.0 Z" fill="#4bb0e8"/><path d="M1008.0 1235.9 L1014.6 1242.5 L1008.0 1249.1 L1001.4 1242.5 Z" fill="#4bb0e8"/><rect x="239.1" y="1540.8" width="12.4" height="12.4" fill="#2bb3a2"/><rect x="429.6" y="1503.3" width="12.4" height="12.4" fill="#2bb3a2"/><rect x="620.1" y="1426.8" width="12.4" height="12.4" fill="#2bb3a2"/><rect x="810.8" y="1319.3" width="12.4" height="12.4" fill="#2bb3a2"/><rect x="1001.8" y="1195.3" width="12.4" height="12.4" fill="#2bb3a2"/><path d="M131.5 1117.7 H175.5" stroke="#ed7a6d" stroke-width="3" stroke-linecap="round"/><path d="M153.5 1112.7 L158.3 1121.5 L148.7 1121.5 Z" fill="#ed7a6d"/><path d="M456.7 1117.7 H501" stroke="#4bb0e8" stroke-width="3" stroke-linecap="round"/><path d="M478.85 1113.1000000000001 L483.45000000000005 1117.7 L478.85 1122.3 L474.25 1117.7 Z" fill="#4bb0e8"/><path d="M788.8 1117.7 H832.5" stroke="#2bb3a2" stroke-width="3" stroke-linecap="round"/><rect x="806.4" y="1113.4" width="8.6" height="8.6" fill="#2bb3a2"/><path d="M1237 1243.5 H2198" stroke="#4aa6da" stroke-width="1" shape-rendering="crispEdges"/><path d="M1237 1324.5 H2198" stroke="#4aa6da" stroke-width="1" shape-rendering="crispEdges"/><path d="M1237 1404.5 H2198" stroke="#4aa6da" stroke-width="1" shape-rendering="crispEdges"/><path d="M1237 1485.5 H2198" stroke="#4aa6da" stroke-width="1" shape-rendering="crispEdges"/><path d="M1429.5 1162.5 V1566.5" stroke="#4aa6da" stroke-width="1" shape-rendering="crispEdges"/><path d="M1621.5 1162.5 V1566.5" stroke="#4aa6da" stroke-width="1" shape-rendering="crispEdges"/><path d="M1813.5 1162.5 V1566.5" stroke="#4aa6da" stroke-width="1" shape-rendering="crispEdges"/><path d="M2005.5 1162.5 V1566.5" stroke="#4aa6da" stroke-width="1" shape-rendering="crispEdges"/><rect x="1237" y="1162.5" width="961" height="404.0" fill="none" stroke="#4aa6da" stroke-width="2"/><path d="M1236 1566.5 H2199" stroke="#45a6dc" stroke-width="2.2"/><path d="M1332.7 1533.8 L1525.0 1530.0 L1717.0 1498.0 L1909.0 1441.3 L2100.8 1372.3" fill="none" stroke="#ed7a6d" stroke-width="3" stroke-linejoin="round" stroke-linecap="round"/><path d="M1332.7 1520.0 L1525.0 1506.3 L1717.0 1460.0 L1909.0 1385.6 L2100.8 1298.5" fill="none" stroke="#4bb0e8" stroke-width="3" stroke-linejoin="round" stroke-linecap="round"/><path d="M1332.7 1507.0 L1525.0 1485.5 L1717.0 1426.5 L1909.0 1335.3 L2100.8 1230.5" fill="none" stroke="#2bb3a2" stroke-width="3" stroke-linejoin="round" stroke-linecap="round"/><path d="M1332.7 1526.8 L1339.5 1539.0 L1325.9 1539.0 Z" fill="#ed7a6d"/><path d="M1525.0 1523.0 L1531.8 1535.2 L1518.2 1535.2 Z" fill="#ed7a6d"/><path d="M1717.0 1491.0 L1723.8 1503.2 L1710.2 1503.2 Z" fill="#ed7a6d"/><path d="M1909.0 1434.3 L1915.8 1446.5 L1902.2 1446.5 Z" fill="#ed7a6d"/><path d="M2100.8 1365.3 L2107.6 1377.5 L2094.0 1377.5 Z" fill="#ed7a6d"/><path d="M1332.7 1513.4 L1339.3 1520.0 L1332.7 1526.6 L1326.1 1520.0 Z" fill="#4bb0e8"/><path d="M1525.0 1499.7 L1531.6 1506.3 L1525.0 1512.9 L1518.4 1506.3 Z" fill="#4bb0e8"/><path d="M1717.0 1453.4 L1723.6 1460.0 L1717.0 1466.6 L1710.4 1460.0 Z" fill="#4bb0e8"/><path d="M1909.0 1379.0 L1915.6 1385.6 L1909.0 1392.2 L1902.4 1385.6 Z" fill="#4bb0e8"/><path d="M2100.8 1291.9 L2107.4 1298.5 L2100.8 1305.1 L2094.2 1298.5 Z" fill="#4bb0e8"/><rect x="1326.5" y="1500.8" width="12.4" height="12.4" fill="#2bb3a2"/><rect x="1518.8" y="1479.3" width="12.4" height="12.4" fill="#2bb3a2"/><rect x="1710.8" y="1420.3" width="12.4" height="12.4" fill="#2bb3a2"/><rect x="1902.8" y="1329.1" width="12.4" height="12.4" fill="#2bb3a2"/><rect x="2094.6" y="1224.3" width="12.4" height="12.4" fill="#2bb3a2"/><path d="M1306.8 1117.7 H1350" stroke="#ed7a6d" stroke-width="3" stroke-linecap="round"/><path d="M1328.4 1112.7 L1333.2 1121.5 L1323.6000000000001 1121.5 Z" fill="#ed7a6d"/><path d="M1603 1117.7 H1646" stroke="#4bb0e8" stroke-width="3" stroke-linecap="round"/><path d="M1624.5 1113.1000000000001 L1629.1 1117.7 L1624.5 1122.3 L1619.9 1117.7 Z" fill="#4bb0e8"/><path d="M1903.8 1117.7 H1947.5" stroke="#2bb3a2" stroke-width="3" stroke-linecap="round"/><rect x="1921.4" y="1113.4" width="8.6" height="8.6" fill="#2bb3a2"/></svg>
<span class="t" style="font:bold 17px/20.4px 'DejaVu Sans Condensed', 'DejaVu Sans', 'Liberation Sans', sans-serif;color:#000;top:602.65px;font-stretch:condensed;-webkit-text-stroke:0.22px #000;left:74.99px;transform-origin:0 50%;transform:scaleX(1.0440);">2,500</span>
<span class="t" style="font:bold 17px/20.4px 'DejaVu Sans Condensed', 'DejaVu Sans', 'Liberation Sans', sans-serif;color:#000;top:677.0px;font-stretch:condensed;-webkit-text-stroke:0.22px #000;left:74.99px;transform-origin:0 50%;transform:scaleX(1.0440);">2,000</span>
<span class="t" style="font:bold 17px/20.4px 'DejaVu Sans Condensed', 'DejaVu Sans', 'Liberation Sans', sans-serif;color:#000;top:751.34px;font-stretch:condensed;-webkit-text-stroke:0.22px #000;left:74.99px;transform-origin:0 50%;transform:scaleX(1.0440);">1,500</span>
<span class="t" style="font:bold 17px/20.4px 'DejaVu Sans Condensed', 'DejaVu Sans', 'Liberation Sans', sans-serif;color:#000;top:825.67px;font-stretch:condensed;-webkit-text-stroke:0.22px #000;left:74.99px;transform-origin:0 50%;transform:scaleX(1.0440);">1,000</span>
<span class="t" style="font:bold 17px/20.4px 'DejaVu Sans Condensed', 'DejaVu Sans', 'Liberation Sans', sans-serif;color:#000;top:900.01px;font-stretch:condensed;-webkit-text-stroke:0.22px #000;left:90.49px;transform-origin:0 50%;transform:scaleX(1.0965);">500</span>
<span class="t" style="font:bold 17px/20.4px 'DejaVu Sans Condensed', 'DejaVu Sans', 'Liberation Sans', sans-serif;color:#000;top:974.36px;font-stretch:condensed;-webkit-text-stroke:0.22px #000;left:-1075px;width:1200px;text-align:right;">-</span>
<span class="t" style="font:bold 17px/20.4px 'DejaVu Sans Condensed', 'DejaVu Sans', 'Liberation Sans', sans-serif;color:#000;top:1018.35px;font-stretch:condensed;-webkit-text-stroke:0.22px #000;left:215.69px;transform-origin:0 50%;transform:scaleX(1.0574);">2026</span>
<span class="t" style="font:bold 17px/20.4px 'DejaVu Sans Condensed', 'DejaVu Sans', 'Liberation Sans', sans-serif;color:#000;top:1018.35px;font-stretch:condensed;-webkit-text-stroke:0.22px #000;left:398.09px;transform-origin:0 50%;transform:scaleX(1.0574);">2027</span>
<span class="t" style="font:bold 17px/20.4px 'DejaVu Sans Condensed', 'DejaVu Sans', 'Liberation Sans', sans-serif;color:#000;top:1018.35px;font-stretch:condensed;-webkit-text-stroke:0.22px #000;left:580.49px;transform-origin:0 50%;transform:scaleX(1.0574);">2028</span>
<span class="t" style="font:bold 17px/20.4px 'DejaVu Sans Condensed', 'DejaVu Sans', 'Liberation Sans', sans-serif;color:#000;top:1018.35px;font-stretch:condensed;-webkit-text-stroke:0.22px #000;left:762.89px;transform-origin:0 50%;transform:scaleX(1.0574);">2029</span>
<span class="t" style="font:bold 17px/20.4px 'DejaVu Sans Condensed', 'DejaVu Sans', 'Liberation Sans', sans-serif;color:#000;top:1018.35px;font-stretch:condensed;-webkit-text-stroke:0.22px #000;left:945.29px;transform-origin:0 50%;transform:scaleX(1.0574);">2030</span>
<span class="t" style="font:bold 17px/20.4px 'DejaVu Sans Condensed', 'DejaVu Sans', 'Liberation Sans', sans-serif;color:#000;top:562.25px;font-stretch:condensed;-webkit-text-stroke:0.22px #000;left:230.19px;transform-origin:0 50%;transform:scaleX(1.0279);">Low Gross Margin</span>
<span class="t" style="font:bold 17px/20.4px 'DejaVu Sans Condensed', 'DejaVu Sans', 'Liberation Sans', sans-serif;color:#000;top:562.25px;font-stretch:condensed;-webkit-text-stroke:0.22px #000;left:515.99px;transform-origin:0 50%;transform:scaleX(1.0183);">Base Gross Margin</span>
<span class="t" style="font:bold 17px/20.4px 'DejaVu Sans Condensed', 'DejaVu Sans', 'Liberation Sans', sans-serif;color:#000;top:562.25px;font-stretch:condensed;-webkit-text-stroke:0.22px #000;left:806.99px;transform-origin:0 50%;transform:scaleX(1.0171);">High Gross Margin</span>
<span class="t" style="font:bold 17px/20.4px 'DejaVu Sans Condensed', 'DejaVu Sans', 'Liberation Sans', sans-serif;color:#000;top:607.15px;font-stretch:condensed;-webkit-text-stroke:0.22px #000;left:1165.49px;transform-origin:0 50%;transform:scaleX(1.0440);">3,000</span>
<span class="t" style="font:bold 17px/20.4px 'DejaVu Sans Condensed', 'DejaVu Sans', 'Liberation Sans', sans-serif;color:#000;top:668.9px;font-stretch:condensed;-webkit-text-stroke:0.22px #000;left:1165.49px;transform-origin:0 50%;transform:scaleX(1.0440);">2,500</span>
<span class="t" style="font:bold 17px/20.4px 'DejaVu Sans Condensed', 'DejaVu Sans', 'Liberation Sans', sans-serif;color:#000;top:730.65px;font-stretch:condensed;-webkit-text-stroke:0.22px #000;left:1165.49px;transform-origin:0 50%;transform:scaleX(1.0440);">2,000</span>
<span class="t" style="font:bold 17px/20.4px 'DejaVu Sans Condensed', 'DejaVu Sans', 'Liberation Sans', sans-serif;color:#000;top:792.4px;font-stretch:condensed;-webkit-text-stroke:0.22px #000;left:1165.49px;transform-origin:0 50%;transform:scaleX(1.0440);">1,500</span>
<span class="t" style="font:bold 17px/20.4px 'DejaVu Sans Condensed', 'DejaVu Sans', 'Liberation Sans', sans-serif;color:#000;top:854.15px;font-stretch:condensed;-webkit-text-stroke:0.22px #000;left:1165.49px;transform-origin:0 50%;transform:scaleX(1.0440);">1,000</span>
<span class="t" style="font:bold 17px/20.4px 'DejaVu Sans Condensed', 'DejaVu Sans', 'Liberation Sans', sans-serif;color:#000;top:915.9px;font-stretch:condensed;-webkit-text-stroke:0.22px #000;left:1180.99px;transform-origin:0 50%;transform:scaleX(1.0965);">500</span>
<span class="t" style="font:bold 17px/20.4px 'DejaVu Sans Condensed', 'DejaVu Sans', 'Liberation Sans', sans-serif;color:#000;top:977.65px;font-stretch:condensed;-webkit-text-stroke:0.22px #000;left:15.5px;width:1200px;text-align:right;">-</span>
<span class="t" style="font:bold 17px/20.4px 'DejaVu Sans Condensed', 'DejaVu Sans', 'Liberation Sans', sans-serif;color:#000;top:1021.35px;font-stretch:condensed;-webkit-text-stroke:0.22px #000;left:1310.59px;transform-origin:0 50%;transform:scaleX(1.0574);">2026</span>
<span class="t" style="font:bold 17px/20.4px 'DejaVu Sans Condensed', 'DejaVu Sans', 'Liberation Sans', sans-serif;color:#000;top:1021.35px;font-stretch:condensed;-webkit-text-stroke:0.22px #000;left:1502.79px;transform-origin:0 50%;transform:scaleX(1.0574);">2027</span>
<span class="t" style="font:bold 17px/20.4px 'DejaVu Sans Condensed', 'DejaVu Sans', 'Liberation Sans', sans-serif;color:#000;top:1021.35px;font-stretch:condensed;-webkit-text-stroke:0.22px #000;left:1694.99px;transform-origin:0 50%;transform:scaleX(1.0574);">2028</span>
<span class="t" style="font:bold 17px/20.4px 'DejaVu Sans Condensed', 'DejaVu Sans', 'Liberation Sans', sans-serif;color:#000;top:1021.35px;font-stretch:condensed;-webkit-text-stroke:0.22px #000;left:1887.19px;transform-origin:0 50%;transform:scaleX(1.0574);">2029</span>
<span class="t" style="font:bold 17px/20.4px 'DejaVu Sans Condensed', 'DejaVu Sans', 'Liberation Sans', sans-serif;color:#000;top:1021.35px;font-stretch:condensed;-webkit-text-stroke:0.22px #000;left:2079.39px;transform-origin:0 50%;transform:scaleX(1.0574);">2030</span>
<span class="t" style="font:bold 17px/20.4px 'DejaVu Sans Condensed', 'DejaVu Sans', 'Liberation Sans', sans-serif;color:#000;top:566.05px;font-stretch:condensed;-webkit-text-stroke:0.22px #000;left:1364.99px;transform-origin:0 50%;transform:scaleX(1.0362);">Low Revenue</span>
<span class="t" style="font:bold 17px/20.4px 'DejaVu Sans Condensed', 'DejaVu Sans', 'Liberation Sans', sans-serif;color:#000;top:566.05px;font-stretch:condensed;-webkit-text-stroke:0.22px #000;left:1650.49px;transform-origin:0 50%;transform:scaleX(1.0377);">Base Revenue</span>
<span class="t" style="font:bold 17px/20.4px 'DejaVu Sans Condensed', 'DejaVu Sans', 'Liberation Sans', sans-serif;color:#000;top:566.05px;font-stretch:condensed;-webkit-text-stroke:0.22px #000;left:1941.99px;transform-origin:0 50%;transform:scaleX(1.0347);">High Revenue</span>
<span class="t" style="font:bold 17px/20.4px 'DejaVu Sans Condensed', 'DejaVu Sans', 'Liberation Sans', sans-serif;color:#000;top:1153.15px;font-stretch:condensed;-webkit-text-stroke:0.22px #000;left:79.49px;transform-origin:0 50%;transform:scaleX(1.0440);">2,500</span>
<span class="t" style="font:bold 17px/20.4px 'DejaVu Sans Condensed', 'DejaVu Sans', 'Liberation Sans', sans-serif;color:#000;top:1233.95px;font-stretch:condensed;-webkit-text-stroke:0.22px #000;left:79.49px;transform-origin:0 50%;transform:scaleX(1.0440);">2,000</span>
<span class="t" style="font:bold 17px/20.4px 'DejaVu Sans Condensed', 'DejaVu Sans', 'Liberation Sans', sans-serif;color:#000;top:1314.75px;font-stretch:condensed;-webkit-text-stroke:0.22px #000;left:79.49px;transform-origin:0 50%;transform:scaleX(1.0440);">1,500</span>
<span class="t" style="font:bold 17px/20.4px 'DejaVu Sans Condensed', 'DejaVu Sans', 'Liberation Sans', sans-serif;color:#000;top:1395.56px;font-stretch:condensed;-webkit-text-stroke:0.22px #000;left:79.49px;transform-origin:0 50%;transform:scaleX(1.0440);">1,000</span>
<span class="t" style="font:bold 17px/20.4px 'DejaVu Sans Condensed', 'DejaVu Sans', 'Liberation Sans', sans-serif;color:#000;top:1476.36px;font-stretch:condensed;-webkit-text-stroke:0.22px #000;left:94.99px;transform-origin:0 50%;transform:scaleX(1.0965);">500</span>
<span class="t" style="font:bold 17px/20.4px 'DejaVu Sans Condensed', 'DejaVu Sans', 'Liberation Sans', sans-serif;color:#000;top:1557.15px;font-stretch:condensed;-webkit-text-stroke:0.22px #000;left:-1070.5px;width:1200px;text-align:right;">-</span>
<span class="t" style="font:bold 17px/20.4px 'DejaVu Sans Condensed', 'DejaVu Sans', 'Liberation Sans', sans-serif;color:#000;top:1600.36px;font-stretch:condensed;-webkit-text-stroke:0.22px #000;left:223.29px;transform-origin:0 50%;transform:scaleX(1.0574);">2026</span>
<span class="t" style="font:bold 17px/20.4px 'DejaVu Sans Condensed', 'DejaVu Sans', 'Liberation Sans', sans-serif;color:#000;top:1600.36px;font-stretch:condensed;-webkit-text-stroke:0.22px #000;left:413.89px;transform-origin:0 50%;transform:scaleX(1.0574);">2027</span>
<span class="t" style="font:bold 17px/20.4px 'DejaVu Sans Condensed', 'DejaVu Sans', 'Liberation Sans', sans-serif;color:#000;top:1600.36px;font-stretch:condensed;-webkit-text-stroke:0.22px #000;left:604.49px;transform-origin:0 50%;transform:scaleX(1.0574);">2028</span>
<span class="t" style="font:bold 17px/20.4px 'DejaVu Sans Condensed', 'DejaVu Sans', 'Liberation Sans', sans-serif;color:#000;top:1600.36px;font-stretch:condensed;-webkit-text-stroke:0.22px #000;left:795.09px;transform-origin:0 50%;transform:scaleX(1.0574);">2029</span>
<span class="t" style="font:bold 17px/20.4px 'DejaVu Sans Condensed', 'DejaVu Sans', 'Liberation Sans', sans-serif;color:#000;top:1600.36px;font-stretch:condensed;-webkit-text-stroke:0.22px #000;left:985.69px;transform-origin:0 50%;transform:scaleX(1.0574);">2030</span>
<span class="t" style="font:bold 17px/20.4px 'DejaVu Sans Condensed', 'DejaVu Sans', 'Liberation Sans', sans-serif;color:#000;top:1108.26px;font-stretch:condensed;-webkit-text-stroke:0.22px #000;left:178.99px;transform-origin:0 50%;transform:scaleX(1.0272);">Low Contribution Margin</span>
<span class="t" style="font:bold 17px/20.4px 'DejaVu Sans Condensed', 'DejaVu Sans', 'Liberation Sans', sans-serif;color:#000;top:1108.26px;font-stretch:condensed;-webkit-text-stroke:0.22px #000;left:504.49px;transform-origin:0 50%;transform:scaleX(1.0215);">Base Contribution Margin</span>
<span class="t" style="font:bold 17px/20.4px 'DejaVu Sans Condensed', 'DejaVu Sans', 'Liberation Sans', sans-serif;color:#000;top:1108.26px;font-stretch:condensed;-webkit-text-stroke:0.22px #000;left:835.49px;transform-origin:0 50%;transform:scaleX(1.0243);">High Contribution Margin</span>
<span class="t" style="font:bold 17px/20.4px 'DejaVu Sans Condensed', 'DejaVu Sans', 'Liberation Sans', sans-serif;color:#000;top:1153.15px;font-stretch:condensed;-webkit-text-stroke:0.22px #000;left:1165.49px;transform-origin:0 50%;transform:scaleX(1.0440);">2,000</span>
<span class="t" style="font:bold 17px/20.4px 'DejaVu Sans Condensed', 'DejaVu Sans', 'Liberation Sans', sans-serif;color:#000;top:1233.95px;font-stretch:condensed;-webkit-text-stroke:0.22px #000;left:1165.49px;transform-origin:0 50%;transform:scaleX(1.0440);">1,500</span>
<span class="t" style="font:bold 17px/20.4px 'DejaVu Sans Condensed', 'DejaVu Sans', 'Liberation Sans', sans-serif;color:#000;top:1314.75px;font-stretch:condensed;-webkit-text-stroke:0.22px #000;left:1165.49px;transform-origin:0 50%;transform:scaleX(1.0440);">1,000</span>
<span class="t" style="font:bold 17px/20.4px 'DejaVu Sans Condensed', 'DejaVu Sans', 'Liberation Sans', sans-serif;color:#000;top:1395.56px;font-stretch:condensed;-webkit-text-stroke:0.22px #000;left:1180.99px;transform-origin:0 50%;transform:scaleX(1.0965);">500</span>
<span class="t" style="font:bold 17px/20.4px 'DejaVu Sans Condensed', 'DejaVu Sans', 'Liberation Sans', sans-serif;color:#000;top:1476.36px;font-stretch:condensed;-webkit-text-stroke:0.22px #000;left:15.5px;width:1200px;text-align:right;">-</span>
<span class="t" style="font:bold 17px/20.4px 'DejaVu Sans Condensed', 'DejaVu Sans', 'Liberation Sans', sans-serif;color:#000;top:1557.15px;font-stretch:condensed;-webkit-text-stroke:0.22px #000;left:1171.49px;transform-origin:0 50%;transform:scaleX(1.0896);">(500)</span>
<span class="t" style="font:bold 17px/20.4px 'DejaVu Sans Condensed', 'DejaVu Sans', 'Liberation Sans', sans-serif;color:#000;top:1600.36px;font-stretch:condensed;-webkit-text-stroke:0.22px #000;left:1310.59px;transform-origin:0 50%;transform:scaleX(1.0574);">2026</span>
<span class="t" style="font:bold 17px/20.4px 'DejaVu Sans Condensed', 'DejaVu Sans', 'Liberation Sans', sans-serif;color:#000;top:1600.36px;font-stretch:condensed;-webkit-text-stroke:0.22px #000;left:1502.79px;transform-origin:0 50%;transform:scaleX(1.0574);">2027</span>
<span class="t" style="font:bold 17px/20.4px 'DejaVu Sans Condensed', 'DejaVu Sans', 'Liberation Sans', sans-serif;color:#000;top:1600.36px;font-stretch:condensed;-webkit-text-stroke:0.22px #000;left:1694.99px;transform-origin:0 50%;transform:scaleX(1.0574);">2028</span>
<span class="t" style="font:bold 17px/20.4px 'DejaVu Sans Condensed', 'DejaVu Sans', 'Liberation Sans', sans-serif;color:#000;top:1600.36px;font-stretch:condensed;-webkit-text-stroke:0.22px #000;left:1887.19px;transform-origin:0 50%;transform:scaleX(1.0574);">2029</span>
<span class="t" style="font:bold 17px/20.4px 'DejaVu Sans Condensed', 'DejaVu Sans', 'Liberation Sans', sans-serif;color:#000;top:1600.36px;font-stretch:condensed;-webkit-text-stroke:0.22px #000;left:2079.39px;transform-origin:0 50%;transform:scaleX(1.0574);">2030</span>
<span class="t" style="font:bold 17px/20.4px 'DejaVu Sans Condensed', 'DejaVu Sans', 'Liberation Sans', sans-serif;color:#000;top:1108.26px;font-stretch:condensed;-webkit-text-stroke:0.22px #000;left:1353.99px;transform-origin:0 50%;transform:scaleX(1.0688);">Low EBITDA</span>
<span class="t" style="font:bold 17px/20.4px 'DejaVu Sans Condensed', 'DejaVu Sans', 'Liberation Sans', sans-serif;color:#000;top:1108.26px;font-stretch:condensed;-webkit-text-stroke:0.22px #000;left:1649.99px;transform-origin:0 50%;transform:scaleX(1.0500);">Base EBITDA</span>
<span class="t" style="font:bold 17px/20.4px 'DejaVu Sans Condensed', 'DejaVu Sans', 'Liberation Sans', sans-serif;color:#000;top:1108.26px;font-stretch:condensed;-webkit-text-stroke:0.22px #000;left:1951.29px;transform-origin:0 50%;transform:scaleX(1.0607);">High EBITDA</span>
<svg width="2902" height="1762"><g fill="none" stroke-width="1.7" stroke-linecap="round" stroke-linejoin="round">
<path d="M54 1685.5 L47 1692.5 L54 1699.5" stroke="#8a8a8a"/>
<path d="M95.5 1685.5 L102.5 1692.5 L95.5 1699.5" stroke="#e8e8e8"/></g></svg>
<span class="t" style="font:normal 20.6px/24.72px 'Liberation Sans', sans-serif;color:#f2f2f2;top:1683.95px;letter-spacing:0.173px;left:189.68px;">Contents</span>
<div style="left:299px;top:1676px;width:128px;height:36px;background:#fbe96c;border-radius:6px;"></div>
<span class="t" style="font:normal 20.6px/24.72px 'Liberation Sans', sans-serif;color:#151515;top:1683.95px;letter-spacing:0.018px;left:312.93px;">Dashboard</span>
<div style="left:440px;top:1676px;width:106px;height:36px;background:#fbe96c;border-radius:6px;"></div>
<span class="t" style="font:normal 20.6px/24.72px 'Liberation Sans', sans-serif;color:#151515;top:1683.95px;left:454.38px;transform-origin:0 50%;transform:scaleX(0.9551);">Revenue</span>
<div style="left:559.3px;top:1676px;width:157.4px;height:36px;background:#fbe96c;border-radius:6px;"></div>
<span class="t" style="font:normal 20.6px/24.72px 'Liberation Sans', sans-serif;color:#151515;top:1683.95px;left:571.68px;transform-origin:0 50%;transform:scaleX(0.9341);">COGS &amp; OPEX</span>
<div style="left:730px;top:1676px;width:88.9px;height:36px;background:#fbe96c;border-radius:6px;"></div>
<span class="t" style="font:normal 20.6px/24.72px 'Liberation Sans', sans-serif;color:#151515;top:1683.95px;letter-spacing:-0.068px;left:742.88px;">Payroll</span>
<div style="left:831.8px;top:1676px;width:87.2px;height:36px;background:#fbe96c;border-radius:6px;"></div>
<span class="t" style="font:normal 20.6px/24.72px 'Liberation Sans', sans-serif;color:#151515;top:1683.95px;left:844.58px;transform-origin:0 50%;transform:scaleX(0.8884);">CAPEX</span>
<div style="left:932px;top:1676px;width:112.8px;height:36px;background:#fbe96c;border-radius:6px;"></div>
<span class="t" style="font:normal 20.6px/24.72px 'Liberation Sans', sans-serif;color:#151515;top:1683.95px;letter-spacing:0.019px;left:944.48px;">CapTable</span>
<div style="left:1057.8px;top:1676px;width:90.2px;height:36px;background:#fbe96c;border-radius:6px;"></div>
<span class="t" style="font:normal 20.6px/24.72px 'Liberation Sans', sans-serif;color:#151515;top:1683.95px;letter-spacing:0.140px;left:1070.58px;">Capital</span>
<div style="left:1161px;top:1676px;width:42px;height:36px;background:#4ab0e8;border-radius:6px;"></div>
<span class="t" style="font:normal 20.6px/24.72px 'Liberation Sans', sans-serif;color:#151515;top:1683.95px;left:1174.38px;transform-origin:0 50%;transform:scaleX(0.8134);">IS</span>
<div style="left:1215.9px;top:1676px;width:47.9px;height:36px;background:#4ab0e8;border-radius:6px;"></div>
<span class="t" style="font:normal 20.6px/24.72px 'Liberation Sans', sans-serif;color:#151515;top:1683.95px;left:1228.28px;transform-origin:0 50%;transform:scaleX(0.8500);">CF</span>
<div style="left:1276.8px;top:1676px;width:47.9px;height:36px;background:#4ab0e8;border-radius:6px;"></div>
<span class="t" style="font:normal 20.6px/24.72px 'Liberation Sans', sans-serif;color:#151515;top:1683.95px;left:1289.78px;transform-origin:0 50%;transform:scaleX(0.8309);">BS</span>
<div style="left:1465.7px;top:1676px;width:115.5px;height:36px;background:#4ab0e8;border-radius:6px;"></div>
<span class="t" style="font:normal 20.6px/24.72px 'Liberation Sans', sans-serif;color:#151515;top:1683.95px;letter-spacing:0.474px;left:1478.88px;">Valuation</span>
<div style="left:1594.2px;top:1676px;width:113.8px;height:36px;background:#4ab0e8;border-radius:6px;"></div>
<span class="t" style="font:normal 20.6px/24.72px 'Liberation Sans', sans-serif;color:#151515;top:1683.95px;letter-spacing:-0.110px;left:1607.68px;">Summary</span>
<div style="left:1721px;top:1676px;width:47.9px;height:36px;background:#4ab0e8;border-radius:6px;"></div>
<span class="t" style="font:normal 20.6px/24.72px 'Liberation Sans', sans-serif;color:#151515;top:1683.95px;left:1734.38px;transform-origin:0 50%;transform:scaleX(0.7799);">BE</span>
<div style="left:1781.9px;top:1676px;width:72.1px;height:36px;background:#4ab0e8;border-radius:6px;"></div>
<span class="t" style="font:normal 20.6px/24.72px 'Liberation Sans', sans-serif;color:#151515;top:1683.95px;left:1795.18px;transform-origin:0 50%;transform:scaleX(0.8981);">ROIC</span>
<div style="left:1867px;top:1676px;width:84.9px;height:36px;background:#4ab0e8;border-radius:6px;"></div>
<span class="t" style="font:normal 20.6px/24.72px 'Liberation Sans', sans-serif;color:#151515;top:1683.95px;letter-spacing:-0.282px;left:1879.58px;">Charts</span>
<div style="left:1964.9px;top:1676px;width:63.9px;height:36px;background:#4ab0e8;border-radius:6px;"></div>
<span class="t" style="font:normal 20.6px/24.72px 'Liberation Sans', sans-serif;color:#151515;top:1683.95px;left:1978.28px;transform-origin:0 50%;transform:scaleX(0.8698);">KPIs</span>
<div style="left:2042px;top:1676px;width:30px;height:36px;overflow:hidden;"><div style="left:0;top:0;width:90px;height:36px;background:#4ab0e8;border-radius:6px;"></div><span class="rt" style="left:12.5px;top:8.6px;font:20.6px/22.8px 'Liberation Sans',sans-serif;color:#151515;transform:scaleX(0.8);transform-origin:0 50%">Sc</span></div>
<div style="left:291.5px;top:1680.5px;width:1px;height:27px;background:#6a6a6a;"></div>
<div style="left:433.0px;top:1680.5px;width:1px;height:27px;background:#6a6a6a;"></div>
<div style="left:552.0px;top:1680.5px;width:1px;height:27px;background:#6a6a6a;"></div>
<div style="left:722.8px;top:1680.5px;width:1px;height:27px;background:#6a6a6a;"></div>
<div style="left:824.8px;top:1680.5px;width:1px;height:27px;background:#6a6a6a;"></div>
<div style="left:925.0px;top:1680.5px;width:1px;height:27px;background:#6a6a6a;"></div>
<div style="left:1050.8px;top:1680.5px;width:1px;height:27px;background:#6a6a6a;"></div>
<div style="left:1154.0px;top:1680.5px;width:1px;height:27px;background:#6a6a6a;"></div>
<div style="left:1209.0px;top:1680.5px;width:1px;height:27px;background:#6a6a6a;"></div>
<div style="left:1269.8px;top:1680.5px;width:1px;height:27px;background:#6a6a6a;"></div>
<div style="left:1330.5px;top:1680.5px;width:1px;height:27px;background:#6a6a6a;"></div>
<div style="left:1459.0px;top:1680.5px;width:1px;height:27px;background:#6a6a6a;"></div>
<div style="left:1587.2px;top:1680.5px;width:1px;height:27px;background:#6a6a6a;"></div>
<div style="left:1714.0px;top:1680.5px;width:1px;height:27px;background:#6a6a6a;"></div>
<div style="left:1774.9px;top:1680.5px;width:1px;height:27px;background:#6a6a6a;"></div>
<div style="left:1860.0px;top:1680.5px;width:1px;height:27px;background:#6a6a6a;"></div>
<div style="left:1957.9px;top:1680.5px;width:1px;height:27px;background:#6a6a6a;"></div>
<div style="left:2034.9px;top:1680.5px;width:1px;height:27px;background:#6a6a6a;"></div>
<div style="left:1337.5px;top:1668px;width:116.5px;height:44px;background:linear-gradient(#ffffff 0%,#ffffff 28%,#c2ddf1 100%);border-radius:0 0 7px 7px;border:1.5px solid #fff;border-top:none;box-sizing:border-box;"></div>
<svg width="2902" height="1762"><path d="M1330.5 1669.5 H1339 V1677 H1337.5 A7 7 0 0 0 1330.5 1670 Z M1461 1669.5 H1452.5 V1677 H1454 A7 7 0 0 1 1461 1670 Z" fill="#fff"/></svg>
<span class="t" style="font:normal 20.6px/24.72px 'Liberation Sans', sans-serif;color:#1c1c1c;top:1679.75px;letter-spacing:-0.091px;left:1349.78px;-webkit-text-stroke:0.45px #1c1c1c;">Scenarios</span>
<div style="left:1350px;top:1705px;width:90.5px;height:3px;background:#1e8a4c;border-radius:1px;"></div>
<svg width="2902" height="1762"><g fill="#e0e0e0"><circle cx="2089" cy="1692.7" r="2.1"/><circle cx="2095" cy="1692.7" r="2.1"/><circle cx="2101" cy="1692.7" r="2.1"/>
<rect x="2190.8" y="1686.3" width="2.6" height="3.2"/><rect x="2190.8" y="1692" width="2.6" height="3.2"/><rect x="2190.8" y="1697.7" width="2.6" height="3.2"/></g>
<path d="M2135 1692.7 H2151.5 M2143.2 1684.5 V1701" stroke="#e8e8e8" stroke-width="1.6" fill="none"/></svg>
<div style="left:2216.5px;top:1680.5px;width:643px;height:25.5px;background:#151515;border-radius:12.7px;"></div>
<div style="left:2241.7px;top:1686.6px;width:583.7px;height:12.6px;background:#9a9a9a;border-radius:6.3px;"></div>
<svg width="2902" height="1762"><g fill="#9a9a9a" stroke="#9a9a9a" stroke-width="1.5" stroke-linejoin="round"><path d="M2233.5 1686.8 V1699 L2225 1692.9 Z"/><path d="M2843 1686.8 V1699 L2851.5 1692.9 Z"/></g></svg>
<div style="left:11px;top:1718px;width:2880px;height:33px;background:#141414;border-top:1px solid #2c2c2c;box-sizing:border-box;"></div>
<span class="t" style="font:normal 15px/18.0px 'Liberation Sans', sans-serif;color:#f0f0f0;top:1726.72px;letter-spacing:0.085px;left:26.4px;">Ready</span>
<span class="t" style="font:bold 15px/18.0px 'Liberation Sans', sans-serif;color:#fff;top:1726.52px;letter-spacing:0.378px;left:172.4px;">Accessibility: Investigate</span>
<svg width="2902" height="1762"><g fill="none" stroke="#f0f0f0" stroke-width="1.7" stroke-linejoin="round" stroke-linecap="round">
<path d="M100 1739.5 V1727 H120.5 V1730 M100 1730 H120.5 M103.5 1734 H107 M103.5 1737.5 H107 M100 1741.5 V1743.5 H107"/>
<circle cx="114.5" cy="1738" r="5.7"/><circle cx="114.5" cy="1738" r="2.3" fill="#f0f0f0"/>
<circle cx="156" cy="1727.5" r="2.6"/>
<path d="M147.5 1731.5 C150.5 1733.5 153 1733.8 156 1733.8 C159 1733.8 161.5 1733.5 164.5 1731 M153 1734 V1739 L149.5 1746.5 M159 1734 V1738 M158.5 1739.5 L166.5 1747.5 M166.5 1739.5 L158.5 1747.5 M153.5 1739.5 L156 1737 L157.5 1738.5"/>
</g></svg>
<div style="left:2444.8px;top:1719px;width:60.2px;height:32px;background:#2a2a2a;"></div>
<svg width="2902" height="1762"><g fill="none" stroke="#f2f2f2" stroke-width="1.7">
<rect x="2464.8" y="1725.2" width="18.5" height="17.6"/><path d="M2471 1725.2 V1742.8 M2477.2 1725.2 V1742.8 M2464.8 1731 H2483.3 M2464.8 1737 H2483.3"/>
<rect x="2525" y="1725.2" width="20" height="17.6"/><rect x="2530" y="1729.2" width="10" height="10.6" stroke-width="1.5"/><path d="M2532 1732.5 H2538 M2532 1736 H2538" stroke-width="1.4"/>
<rect x="2584.8" y="1725.2" width="20.2" height="17.6"/><path d="M2591 1725.2 V1735 M2597.5 1725.2 V1735 M2584.8 1735 H2597.5"/>
</g>
<path d="M2633.5 1734.7 H2644.5" stroke="#e0e0e0" stroke-width="1.3"/>
<path d="M2653.3 1734.7 H2801" stroke="#c6c6c6" stroke-width="1.5"/>
<rect x="2726" y="1726" width="7.7" height="16.8" rx="1" fill="#c6c6c6"/>
<path d="M2809 1734.7 H2820.5 M2814.7 1729 V1740.4" stroke="#e8e8e8" stroke-width="1.3"/></svg>
<span class="t" style="font:normal 15.5px/18.6px 'Liberation Sans', sans-serif;color:#f0f0f0;top:1726.23px;letter-spacing:0.347px;left:2839.88px;">110%</span>
</div></body></html>
